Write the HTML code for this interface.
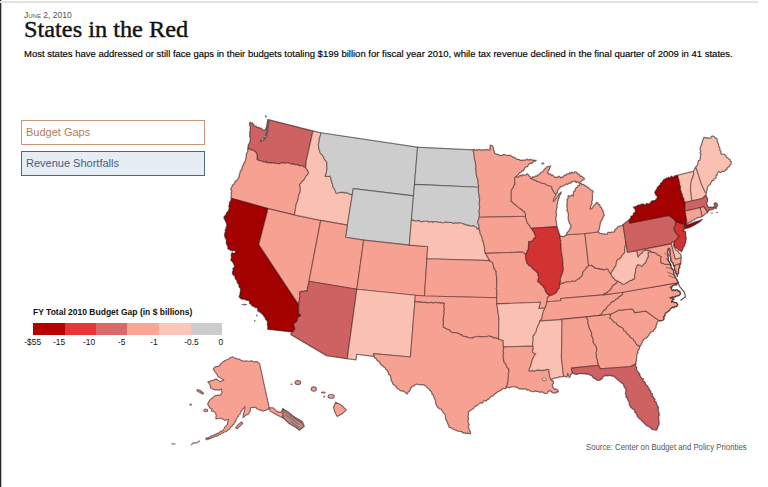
<!DOCTYPE html>
<html><head><meta charset="utf-8"><style>
html,body{margin:0;padding:0;background:#fff;}
body{width:768px;height:487px;position:relative;overflow:hidden;font-family:"Liberation Sans",sans-serif;}
.lline{position:absolute;left:0;top:0;width:1px;height:487px;background:#2a2a2a;}
.lline2{position:absolute;left:1px;top:0;width:1px;height:487px;background:#bbb;}
.tline{position:absolute;left:0;top:1px;width:758px;height:2px;background:#e2e2e2;}
.date{position:absolute;left:24px;top:9.9px;font-size:8.5px;line-height:10px;color:#555;font-variant:small-caps;letter-spacing:0px;}
.title{position:absolute;left:24px;top:16px;font-family:"Liberation Serif",serif;font-size:23.5px;line-height:26px;color:#111;-webkit-text-stroke:0.4px #111;white-space:nowrap;transform:scaleX(1.035);transform-origin:0 0;}
.sub{position:absolute;left:24px;top:48.2px;font-size:9.5px;line-height:12px;color:#000;-webkit-text-stroke:0.15px #000;white-space:nowrap;}
.btn{position:absolute;left:21px;width:182px;height:23px;box-sizing:content-box;font-size:11px;line-height:23px;}
.b1{top:120px;border:1px solid #c99478;color:#b97a58;background:#fff;}
.b2{top:151px;border:1px solid #4d6681;color:#43607d;background:#e7edf5;}
.btn span{padding-left:4px;}
.lt{position:absolute;left:33px;top:307px;font-size:8.5px;line-height:10px;font-weight:bold;color:#111;white-space:nowrap;}
.lb{position:absolute;top:322.5px;height:12.3px;width:32px;}
.ll{position:absolute;top:337px;font-size:8.4px;line-height:10px;color:#111;white-space:nowrap;}
.src{position:absolute;left:586px;top:441.5px;font-size:8.4px;line-height:10px;color:#555;white-space:nowrap;transform:scaleX(0.93);transform-origin:0 0;}
</style></head><body>
<svg width="768" height="487" viewBox="0 0 768 487" style="position:absolute;left:0;top:0"><g stroke="rgba(20,0,0,0.4)" stroke-width="1.15" stroke-linejoin="round"><path fill="#ce6161" d="M267.8,119.5L313.0,131.1L306.1,161.7L305.9,167.0L304.8,167.2L303.8,167.1L302.9,166.3L302.0,165.8L301.0,165.5L299.8,166.2L298.9,165.1L297.8,165.3L297.0,164.5L295.8,164.7L294.7,165.0L293.9,163.8L292.7,164.4L291.8,163.8L290.7,164.0L289.7,163.5L288.8,163.0L287.4,162.8L285.9,163.2L284.6,163.4L283.4,162.7L282.1,163.1L280.8,163.1L279.5,164.1L278.6,163.3L277.4,163.7L276.4,163.5L275.3,163.4L274.2,163.0L273.0,162.7L271.8,163.1L270.5,162.9L269.2,163.0L268.1,162.5L266.8,162.9L265.9,161.7L264.6,162.3L263.4,162.2L262.4,161.5L261.5,160.6L260.0,161.1L259.0,160.4L257.8,160.1L256.8,159.2L257.1,157.4L256.9,155.8L256.7,153.4L255.7,152.3L254.6,151.5L253.6,150.6L252.4,150.0L251.1,150.2L250.2,149.3L249.2,148.9L248.0,148.4L248.1,146.6L248.4,144.9L249.4,143.3L250.1,141.6L250.2,139.7L250.6,137.8L249.5,136.5L250.0,134.5L249.6,132.8L250.3,130.8L250.1,129.0L250.5,127.0L249.7,125.5L249.5,123.8L250.2,122.1L250.9,123.0L252.2,122.9L252.8,124.0L253.7,124.4L254.0,126.1L255.1,126.3L256.2,126.2L256.8,127.5L257.8,127.7L259.0,127.3L259.7,128.3L261.0,128.2L262.0,129.2L263.3,130.2L264.8,130.0L266.0,128.6L266.6,126.8L267.0,125.0L267.2,123.1L267.5,121.3L267.8,119.5Z"/><path fill="#f6a192" d="M248.0,148.4L249.2,148.9L250.2,149.3L251.1,150.2L252.4,150.0L253.6,150.6L254.6,151.5L255.7,152.3L256.7,153.4L256.9,155.8L257.1,157.4L256.8,159.2L257.8,160.1L259.0,160.4L260.0,161.1L261.5,160.6L262.4,161.5L263.4,162.2L264.6,162.3L265.9,161.7L266.8,162.9L268.1,162.5L269.2,163.0L270.5,162.9L271.8,163.1L273.0,162.7L274.2,163.0L275.3,163.4L276.4,163.5L277.4,163.7L278.6,163.3L279.5,164.1L280.8,163.1L282.1,163.1L283.4,162.7L284.6,163.4L285.9,163.2L287.4,162.8L288.8,163.0L289.7,163.5L290.7,164.0L291.8,163.8L292.7,164.4L293.9,163.8L294.7,165.0L295.8,164.7L297.0,164.5L297.8,165.3L298.9,165.1L299.8,166.2L301.0,165.5L302.0,165.8L302.9,166.3L303.8,167.1L304.8,167.2L305.9,167.0L306.2,168.8L307.2,169.8L308.1,171.1L308.5,172.9L307.8,174.4L306.8,175.4L305.8,176.4L305.0,178.1L304.1,179.6L303.0,180.9L301.9,181.6L301.2,183.0L300.3,184.0L299.4,185.1L300.2,186.6L300.4,188.5L300.3,191.0L299.8,192.9L298.8,194.4L298.8,196.0L298.2,197.4L298.2,198.9L297.7,200.3L297.3,201.8L296.6,203.2L296.1,204.6L295.9,206.1L295.7,207.6L295.2,209.0L295.5,210.6L294.9,212.0L294.7,213.5L294.2,214.9L268.1,208.6L231.3,198.3L231.0,196.6L231.6,194.7L231.1,193.1L231.9,191.1L230.8,189.4L231.5,187.5L232.4,186.3L232.9,184.7L234.1,183.9L234.8,182.6L235.5,181.1L236.7,180.6L237.6,179.5L238.5,178.3L239.3,176.9L239.2,175.2L239.8,173.8L240.2,172.3L240.5,170.7L241.9,169.7L242.0,168.0L242.5,166.5L243.4,165.2L243.8,163.7L244.4,162.3L245.4,160.9L245.8,159.3L246.1,157.7L246.4,156.1L246.2,154.4L247.1,152.8L247.9,151.4L247.7,149.9L248.0,148.4Z"/><path fill="#a30000" d="M231.3,198.3L268.1,208.6L258.8,244.6L298.6,304.5L298.7,307.1L298.3,308.7L298.9,310.2L298.4,311.9L298.9,313.4L299.7,314.6L301.0,315.1L299.7,316.4L298.2,317.1L297.6,318.6L297.3,320.4L296.3,321.7L295.0,322.7L293.9,323.8L293.8,325.6L294.5,327.1L295.0,328.7L294.2,329.9L293.5,331.3L292.2,332.0L267.6,329.2L267.9,327.5L267.8,325.9L267.3,324.4L267.7,322.4L267.1,320.6L265.7,319.5L265.2,317.6L264.0,316.4L263.2,314.8L262.0,313.7L260.7,312.6L259.3,311.8L258.3,311.5L257.5,309.9L258.1,307.9L256.6,307.8L255.1,307.6L254.2,306.3L252.5,306.2L251.6,304.8L250.7,303.9L249.5,303.3L249.7,301.2L248.5,300.6L247.3,300.1L245.8,300.1L244.7,299.1L243.1,299.3L241.6,299.1L240.3,298.1L239.0,296.3L240.0,294.8L240.0,293.1L240.6,291.5L240.5,289.8L240.4,288.0L239.0,286.9L239.2,285.0L238.4,283.8L237.3,282.8L237.3,280.9L236.5,279.8L235.4,278.9L235.2,277.2L234.7,275.7L233.4,275.0L232.6,273.9L232.4,272.2L233.2,270.4L233.0,268.5L233.9,267.4L235.0,266.5L234.2,265.3L233.7,263.9L233.0,262.3L231.9,261.2L230.8,260.1L231.4,258.4L231.5,256.8L231.2,255.1L231.9,252.7L233.7,253.2L235.0,253.1L236.0,252.0L237.2,251.6L235.9,251.7L234.9,250.8L233.8,250.3L232.4,250.9L231.4,250.2L230.1,250.3L229.3,249.0L228.0,249.0L228.0,247.5L227.8,246.1L227.2,244.9L226.4,243.7L226.3,242.1L226.5,240.3L226.1,238.9L225.3,237.7L224.7,236.4L224.8,234.8L224.8,233.3L225.6,231.6L225.2,230.1L226.2,228.7L226.2,226.9L227.0,225.5L226.6,223.9L226.2,222.3L225.4,221.1L224.9,219.4L223.9,218.0L224.3,216.3L225.7,215.4L226.2,213.8L227.1,212.5L228.7,210.4L229.1,208.9L229.3,207.3L228.9,205.8L229.6,204.2L229.4,202.6L230.6,201.3L231.3,199.9L231.3,198.3Z"/><path fill="#f6a192" d="M268.1,208.6L294.2,214.9L320.7,220.4L309.0,281.3L309.1,283.0L308.3,284.6L308.0,286.2L307.3,287.8L307.5,289.5L307.1,291.1L305.9,290.9L304.7,291.0L303.5,291.6L301.8,291.2L300.0,291.9L299.5,293.7L300.1,295.4L299.9,297.2L299.3,298.6L299.8,300.2L298.7,301.5L299.2,303.1L298.6,304.5L258.8,244.6L268.1,208.6Z"/><path fill="#fac0b2" d="M313.0,131.1L320.8,132.8L320.6,134.4L320.3,135.9L319.9,137.4L319.1,138.8L319.5,140.5L319.1,142.0L318.6,143.4L318.3,145.0L318.6,146.3L319.0,147.6L318.8,149.3L319.7,150.4L319.8,151.9L320.5,153.2L321.4,154.4L322.5,155.0L323.0,156.4L323.9,157.2L324.2,158.8L325.0,159.8L325.8,160.9L326.7,161.9L327.0,163.6L327.0,165.4L326.9,167.2L327.1,169.0L326.7,170.4L326.5,171.9L326.2,173.3L325.7,174.7L325.2,176.1L326.4,175.9L327.6,176.5L328.8,176.4L330.1,175.9L330.3,177.4L331.1,178.4L331.1,180.0L331.8,181.1L331.7,182.7L332.5,183.8L332.8,185.4L333.0,187.0L333.7,188.2L334.6,189.2L335.1,190.4L335.7,191.8L336.1,193.2L337.2,193.2L338.3,192.7L339.4,192.6L340.5,192.4L341.6,192.1L342.7,192.8L344.0,192.1L345.0,193.1L346.3,192.4L347.4,192.7L348.5,193.4L349.6,194.4L351.0,194.3L352.3,194.7L347.4,225.1L320.7,220.4L294.2,214.9L294.7,213.5L294.9,212.0L295.5,210.6L295.2,209.0L295.7,207.6L295.9,206.1L296.1,204.6L296.6,203.2L297.3,201.8L297.7,200.3L298.2,198.9L298.2,197.4L298.8,196.0L298.8,194.4L299.8,192.9L300.3,191.0L300.4,188.5L300.2,186.6L299.4,185.1L300.3,184.0L301.2,183.0L301.9,181.6L303.0,180.9L304.1,179.6L305.0,178.1L305.8,176.4L306.8,175.4L307.8,174.4L308.5,172.9L308.1,171.1L307.2,169.8L306.2,168.8L305.9,167.0L306.1,161.7L313.0,131.1Z"/><path fill="#cdcdcd" d="M320.8,132.8L417.6,147.2L414.5,184.4L413.5,195.9L353.3,188.6L352.3,194.7L351.0,194.3L349.6,194.4L348.5,193.4L347.4,192.7L346.3,192.4L345.0,193.1L344.0,192.1L342.7,192.8L341.6,192.1L340.5,192.4L339.4,192.6L338.3,192.7L337.2,193.2L336.1,193.2L335.7,191.8L335.1,190.4L334.6,189.2L333.7,188.2L333.0,187.0L332.8,185.4L332.5,183.8L331.7,182.7L331.8,181.1L331.1,180.0L331.1,178.4L330.3,177.4L330.1,175.9L328.8,176.4L327.6,176.5L326.4,175.9L325.2,176.1L325.7,174.7L326.2,173.3L326.5,171.9L326.7,170.4L327.1,169.0L326.9,167.2L327.0,165.4L327.0,163.6L326.7,161.9L325.8,160.9L325.0,159.8L324.2,158.8L323.9,157.2L323.0,156.4L322.5,155.0L321.4,154.4L320.5,153.2L319.8,151.9L319.7,150.4L318.8,149.3L319.0,147.6L318.6,146.3L318.3,145.0L318.6,143.4L319.1,142.0L319.5,140.5L319.1,138.8L319.9,137.4L320.3,135.9L320.6,134.4L320.8,132.8Z"/><path fill="#cdcdcd" d="M352.3,194.7L353.3,188.6L413.5,195.9L411.4,220.5L409.3,245.1L363.7,240.1L345.5,237.3L347.4,225.1L352.3,194.7Z"/><path fill="#f6a192" d="M320.7,220.4L347.4,225.1L345.5,237.3L363.7,240.1L356.9,289.2L309.0,281.3L320.7,220.4Z"/><path fill="#f6a192" d="M363.7,240.1L409.3,245.1L427.7,246.5L426.9,258.8L424.5,296.0L415.3,295.3L356.9,289.2L363.7,240.1Z"/><path fill="#ce6161" d="M309.0,281.3L356.9,289.2L347.3,358.7L326.4,355.6L290.7,334.5L292.2,332.0L293.5,331.3L294.2,329.9L295.0,328.7L294.5,327.1L293.8,325.6L293.9,323.8L295.0,322.7L296.3,321.7L297.3,320.4L297.6,318.6L298.2,317.1L299.7,316.4L301.0,315.1L299.7,314.6L298.9,313.4L298.4,311.9L298.9,310.2L298.3,308.7L298.7,307.1L298.6,304.5L299.2,303.1L298.7,301.5L299.8,300.2L299.3,298.6L299.9,297.2L300.1,295.4L299.5,293.7L300.0,291.9L301.8,291.2L303.5,291.6L304.7,291.0L305.9,290.9L307.1,291.1L307.5,289.5L307.3,287.8L308.0,286.2L308.3,284.6L309.1,283.0L309.0,281.3Z"/><path fill="#fac0b2" d="M356.9,289.2L415.3,295.3L414.9,301.5L410.4,357.0L373.5,353.6L374.1,356.4L356.7,354.3L356.0,359.8L347.3,358.7L356.9,289.2Z"/><path fill="#cdcdcd" d="M417.6,147.2L473.2,149.9L473.4,151.6L473.8,153.2L474.2,154.8L474.3,156.4L474.3,158.1L474.6,159.7L475.5,161.2L475.3,162.9L475.7,164.5L476.2,166.0L475.7,167.6L475.8,169.1L476.1,170.6L476.3,172.3L476.2,174.1L476.6,175.8L476.8,177.2L477.6,178.4L477.8,179.9L478.1,181.3L478.1,182.9L478.3,184.3L478.7,185.8L478.4,187.3L414.5,184.4L417.6,147.2Z"/><path fill="#cdcdcd" d="M414.5,184.4L478.4,187.3L478.5,189.4L478.4,191.5L478.7,193.4L479.4,195.1L479.0,196.7L479.7,198.3L479.5,199.9L479.6,201.5L479.2,203.0L479.4,204.6L479.7,206.2L479.6,207.8L479.4,209.4L479.1,211.0L479.2,212.5L479.6,214.1L479.2,215.7L479.3,217.3L478.7,219.2L477.9,221.0L478.0,222.5L478.2,224.0L478.8,225.3L479.2,226.7L479.2,228.2L479.2,229.8L478.4,228.6L477.1,228.9L476.4,227.3L475.3,227.0L474.3,226.3L473.2,225.9L472.0,225.7L470.8,226.1L469.6,226.2L468.6,225.1L467.4,225.4L466.2,225.1L465.2,224.4L464.1,224.4L463.1,223.8L462.1,223.2L460.9,223.2L459.9,222.8L458.8,222.8L457.7,223.6L456.6,223.1L455.5,222.7L454.4,223.5L453.4,223.6L452.3,222.9L451.2,222.5L450.2,222.5L449.1,222.3L448.0,222.6L446.9,222.2L445.9,222.4L444.8,222.3L443.7,222.7L442.6,223.0L441.5,222.8L440.5,222.3L439.4,222.3L438.3,222.3L437.2,222.1L436.2,222.0L435.1,221.6L434.0,221.8L432.9,222.6L431.9,221.5L430.8,221.9L429.7,222.0L428.6,222.2L427.6,221.3L426.5,221.3L425.4,221.2L424.3,221.3L423.3,221.3L422.1,221.9L421.1,221.7L420.0,221.6L419.0,220.5L417.9,220.4L416.8,221.2L415.7,221.3L414.7,220.7L413.6,220.8L412.6,219.9L411.4,220.5L413.5,195.9L414.5,184.4Z"/><path fill="#fac0b2" d="M411.4,220.5L412.6,219.9L413.6,220.8L414.7,220.7L415.7,221.3L416.8,221.2L417.9,220.4L419.0,220.5L420.0,221.6L421.1,221.7L422.1,221.9L423.3,221.3L424.3,221.3L425.4,221.2L426.5,221.3L427.6,221.3L428.6,222.2L429.7,222.0L430.8,221.9L431.9,221.5L432.9,222.6L434.0,221.8L435.1,221.6L436.2,222.0L437.2,222.1L438.3,222.3L439.4,222.3L440.5,222.3L441.5,222.8L442.6,223.0L443.7,222.7L444.8,222.3L445.9,222.4L446.9,222.2L448.0,222.6L449.1,222.3L450.2,222.5L451.2,222.5L452.3,222.9L453.4,223.6L454.4,223.5L455.5,222.7L456.6,223.1L457.7,223.6L458.8,222.8L459.9,222.8L460.9,223.2L462.1,223.2L463.1,223.8L464.1,224.4L465.2,224.4L466.2,225.1L467.4,225.4L468.6,225.1L469.6,226.2L470.8,226.1L472.0,225.7L473.2,225.9L474.3,226.3L475.3,227.0L476.4,227.3L477.1,228.9L478.4,228.6L479.2,229.8L480.0,231.4L480.1,233.4L480.9,235.0L481.8,236.5L482.3,238.3L482.3,240.2L483.3,241.6L483.5,243.4L483.9,245.0L484.4,246.4L484.5,247.9L484.6,249.5L484.8,251.5L485.4,253.4L489.7,260.6L426.9,258.8L427.7,246.5L409.3,245.1L411.4,220.5Z"/><path fill="#f6a192" d="M426.9,258.8L489.7,260.6L490.6,261.5L491.9,261.8L492.6,263.0L493.2,264.6L493.6,266.2L493.6,268.0L494.9,268.8L495.4,270.7L496.5,271.7L496.1,273.2L496.2,274.7L496.6,276.3L496.7,277.8L497.0,279.3L496.8,280.9L496.7,282.4L496.9,283.9L496.6,285.5L496.7,287.0L496.2,288.5L497.0,290.0L496.5,291.6L497.1,293.1L496.9,294.6L496.6,296.2L496.8,297.7L424.5,296.0L426.9,258.8Z"/><path fill="#f6a192" d="M415.3,295.3L424.5,296.0L496.8,297.7L496.8,303.9L498.9,317.6L498.7,339.3L497.7,338.3L496.4,338.3L495.2,337.8L493.8,338.2L492.8,337.1L491.6,336.9L490.4,336.4L489.1,336.0L487.8,336.2L486.6,336.7L485.3,336.7L484.0,336.6L482.6,336.6L481.3,336.5L479.9,337.0L478.6,336.3L477.2,336.8L476.0,337.0L474.7,337.0L473.5,337.3L472.4,338.3L471.1,338.0L469.7,337.7L468.2,337.8L466.9,336.7L465.5,336.8L464.1,336.4L462.7,336.3L461.8,334.7L460.4,334.9L459.4,333.8L458.1,333.4L456.7,332.7L455.3,332.8L453.9,332.5L452.4,332.6L451.0,332.0L450.2,330.9L449.3,330.0L448.1,329.4L446.8,329.1L445.6,328.4L444.4,327.7L443.2,327.2L443.1,325.7L443.2,324.2L443.5,322.7L443.1,321.2L443.0,319.7L443.1,318.2L443.7,316.7L443.5,315.2L443.9,313.7L443.9,312.2L443.5,310.7L444.2,309.2L443.8,307.7L443.7,306.2L443.8,304.7L444.2,303.2L443.0,303.4L441.8,302.7L440.6,303.6L439.5,302.4L438.3,303.1L437.1,302.8L436.0,302.3L434.8,302.6L433.6,303.0L432.4,303.1L431.3,302.2L430.1,302.6L428.9,303.0L427.7,302.9L426.6,302.4L425.4,302.8L424.3,302.2L423.0,302.6L421.9,302.2L420.7,301.9L419.5,302.4L418.4,301.6L417.2,302.1L416.0,301.8L414.9,301.5L415.3,295.3Z"/><path fill="#f6a192" d="M414.9,301.5L416.0,301.8L417.2,302.1L418.4,301.6L419.5,302.4L420.7,301.9L421.9,302.2L423.0,302.6L424.3,302.2L425.4,302.8L426.6,302.4L427.7,302.9L428.9,303.0L430.1,302.6L431.3,302.2L432.4,303.1L433.6,303.0L434.8,302.6L436.0,302.3L437.1,302.8L438.3,303.1L439.5,302.4L440.6,303.6L441.8,302.7L443.0,303.4L444.2,303.2L443.8,304.7L443.7,306.2L443.8,307.7L444.2,309.2L443.5,310.7L443.9,312.2L443.9,313.7L443.5,315.2L443.7,316.7L443.1,318.2L443.0,319.7L443.1,321.2L443.5,322.7L443.2,324.2L443.1,325.7L443.2,327.2L444.4,327.7L445.6,328.4L446.8,329.1L448.1,329.4L449.3,330.0L450.2,330.9L451.0,332.0L452.4,332.6L453.9,332.5L455.3,332.8L456.7,332.7L458.1,333.4L459.4,333.8L460.4,334.9L461.8,334.7L462.7,336.3L464.1,336.4L465.5,336.8L466.9,336.7L468.2,337.8L469.7,337.7L471.1,338.0L472.4,338.3L473.5,337.3L474.7,337.0L476.0,337.0L477.2,336.8L478.6,336.3L479.9,337.0L481.3,336.5L482.6,336.6L484.0,336.6L485.3,336.7L486.6,336.7L487.8,336.2L489.1,336.0L490.4,336.4L491.6,336.9L492.8,337.1L493.8,338.2L495.2,337.8L496.4,338.3L497.7,338.3L498.7,339.3L503.2,340.3L503.4,346.9L503.7,348.5L503.2,350.1L503.3,351.7L503.7,353.2L503.0,354.8L503.5,356.4L503.2,358.0L503.6,359.6L503.9,361.3L504.5,362.8L505.8,363.9L506.3,365.6L506.9,367.1L507.9,368.2L509.0,369.2L508.8,370.8L509.2,372.3L508.2,373.8L508.6,375.4L508.3,376.9L508.2,378.4L508.3,379.9L508.1,381.4L507.5,382.8L507.5,384.6L506.4,386.0L506.2,387.8L504.8,388.8L502.8,388.3L501.5,389.7L500.2,390.8L498.6,391.2L497.2,392.2L496.1,393.0L495.0,393.9L493.8,394.6L493.0,396.0L491.2,396.3L490.0,397.7L488.7,399.1L487.3,399.4L486.3,401.0L484.5,400.3L483.3,401.5L482.3,403.0L480.4,402.6L479.2,403.6L477.9,404.6L476.5,406.0L474.6,406.4L473.6,408.3L471.9,409.4L470.5,410.2L469.1,411.2L468.2,412.6L468.5,414.3L468.1,415.8L468.0,417.3L468.7,418.8L467.7,420.4L468.1,421.9L468.4,423.4L469.2,425.0L468.0,426.8L468.9,428.3L469.3,430.2L470.4,431.8L470.5,433.8L469.0,433.5L467.5,433.1L465.9,433.5L464.4,432.8L463.0,433.0L461.8,431.7L460.5,431.4L459.2,431.2L457.8,431.2L456.5,430.2L455.0,429.8L453.6,429.3L452.3,428.6L450.7,427.6L449.0,427.3L449.0,425.6L448.1,424.4L447.6,423.0L447.0,421.7L446.5,420.2L445.7,418.9L445.6,417.3L445.4,415.8L445.0,414.3L443.9,413.1L442.8,411.9L441.9,410.5L441.2,409.1L439.5,408.8L438.5,407.7L437.4,406.8L436.7,405.4L435.9,403.8L435.8,402.0L435.3,400.4L434.6,398.5L433.8,396.7L433.4,395.1L432.1,394.2L431.8,392.5L431.0,391.3L429.8,390.3L429.0,389.1L428.0,388.1L426.9,387.3L426.1,386.0L424.7,385.5L423.5,384.7L422.1,384.7L420.8,384.5L419.5,384.8L418.0,384.5L416.7,384.0L415.2,384.5L414.3,385.7L413.0,386.1L411.8,386.8L410.6,388.3L410.0,390.3L408.8,391.4L407.9,392.7L407.0,394.0L405.7,392.9L404.5,391.6L402.9,391.0L401.5,390.9L400.1,390.5L399.1,389.3L397.7,388.8L396.8,387.8L396.1,386.5L395.1,385.5L393.9,384.8L392.8,384.0L392.5,382.2L391.3,380.8L391.1,378.9L390.8,377.1L390.3,375.5L388.7,374.4L388.5,372.5L387.6,371.4L386.9,369.9L385.6,369.2L385.1,367.6L383.8,366.9L382.9,365.8L381.6,365.3L380.7,364.3L379.8,363.2L379.2,361.8L378.2,361.0L377.1,360.2L376.4,358.7L374.9,357.9L374.1,356.4L373.5,353.6L410.4,357.0L414.9,301.5Z"/><path fill="#f6a192" d="M473.2,149.9L474.2,149.3L475.2,150.5L476.2,149.9L477.2,150.3L478.2,149.6L479.2,149.4L480.2,149.9L481.2,150.4L482.2,149.9L483.2,149.9L484.2,149.7L485.2,149.9L486.2,149.8L487.2,149.5L488.2,149.9L489.2,150.0L490.2,149.9L489.8,148.4L490.4,146.8L490.1,145.3L491.4,145.4L492.7,146.0L493.0,147.5L493.6,148.7L493.4,150.4L494.4,151.4L494.4,153.0L495.3,153.6L496.3,154.3L497.3,154.4L498.3,154.6L499.2,155.4L500.3,155.3L501.3,155.6L502.4,155.3L503.4,154.6L504.6,154.5L505.6,155.0L506.7,155.3L507.8,155.6L509.0,155.3L510.1,155.3L511.2,156.1L512.2,156.6L513.2,157.4L514.3,157.3L515.3,158.2L516.3,159.0L517.3,159.5L518.5,159.3L519.5,159.7L520.5,160.6L521.6,160.3L522.8,160.3L523.9,160.0L525.1,160.2L526.2,159.7L527.2,159.2L528.2,160.0L529.2,159.7L530.2,159.6L531.2,159.6L532.2,160.1L533.2,160.4L534.2,160.1L535.2,160.7L536.2,160.3L535.3,161.3L534.0,161.0L533.1,162.0L532.2,163.1L531.1,163.4L529.8,163.2L529.0,164.4L528.1,165.2L527.5,166.7L526.2,166.6L525.3,167.4L524.4,168.5L523.8,169.9L523.0,171.0L521.7,170.8L521.0,172.2L519.8,172.6L518.9,173.6L518.0,174.6L517.2,175.8L516.2,176.7L514.6,177.7L514.7,179.5L514.8,181.2L515.0,182.9L514.9,184.7L513.9,185.7L513.4,187.4L512.5,188.5L511.8,189.8L511.2,191.3L511.4,193.1L511.2,194.8L511.3,196.6L511.2,198.3L511.4,199.9L511.1,201.4L512.4,201.9L513.3,203.3L514.5,204.0L515.6,205.0L516.8,205.9L518.0,206.9L519.2,207.9L520.4,208.5L521.4,209.6L522.5,210.3L523.6,211.2L524.7,212.0L525.5,214.0L525.6,216.2L479.3,217.3L479.2,215.7L479.6,214.1L479.2,212.5L479.1,211.0L479.4,209.4L479.6,207.8L479.7,206.2L479.4,204.6L479.2,203.0L479.6,201.5L479.5,199.9L479.7,198.3L479.0,196.7L479.4,195.1L478.7,193.4L478.4,191.5L478.5,189.4L478.4,187.3L478.7,185.8L478.3,184.3L478.1,182.9L478.1,181.3L477.8,179.9L477.6,178.4L476.8,177.2L476.6,175.8L476.2,174.1L476.3,172.3L476.1,170.6L475.8,169.1L475.7,167.6L476.2,166.0L475.7,164.5L475.3,162.9L475.5,161.2L474.6,159.7L474.3,158.1L474.3,156.4L474.2,154.8L473.8,153.2L473.4,151.6L473.2,149.9Z"/><path fill="#f6a192" d="M479.3,217.3L525.6,216.2L525.5,217.9L526.6,219.2L526.4,220.9L527.0,222.3L527.9,223.6L528.9,224.5L529.7,225.9L530.4,227.2L531.4,228.3L532.3,229.4L532.9,230.9L533.8,231.9L534.5,233.3L534.9,234.9L535.9,236.1L535.4,237.5L534.2,238.1L533.5,239.2L532.7,240.4L531.7,240.9L530.7,241.7L529.5,241.6L528.5,242.1L528.8,243.6L528.5,245.0L528.5,246.5L528.4,248.0L528.4,249.5L527.4,250.5L527.0,252.1L526.1,253.3L525.7,254.9L522.7,252.1L485.4,253.4L484.8,251.5L484.6,249.5L484.5,247.9L484.4,246.4L483.9,245.0L483.5,243.4L483.3,241.6L482.3,240.2L482.3,238.3L481.8,236.5L480.9,235.0L480.1,233.4L480.0,231.4L479.2,229.8L479.2,228.2L479.2,226.7L478.8,225.3L478.2,224.0L478.0,222.5L477.9,221.0L478.7,219.2L479.3,217.3Z"/><path fill="#f6a192" d="M485.4,253.4L522.7,252.1L525.7,254.9L525.6,256.6L525.8,258.2L526.0,259.9L526.9,261.4L526.7,263.1L527.9,263.8L528.7,265.5L530.1,265.8L531.3,266.6L532.2,268.0L533.2,269.1L534.4,270.1L535.7,270.8L536.7,272.1L538.1,272.6L537.8,274.3L538.4,275.9L538.6,277.8L538.1,279.5L537.7,281.3L538.8,282.3L540.0,282.9L540.7,284.3L542.0,284.9L543.0,286.0L543.7,287.6L544.9,288.3L545.2,290.2L545.9,291.9L547.0,293.3L548.1,294.5L549.5,295.4L548.8,296.9L547.5,297.4L547.2,298.9L547.4,300.5L546.8,301.8L546.6,303.8L546.1,305.6L545.0,308.1L538.7,308.5L540.5,302.2L496.8,303.9L496.8,297.7L496.6,296.2L496.9,294.6L497.1,293.1L496.5,291.6L497.0,290.0L496.2,288.5L496.7,287.0L496.6,285.5L496.9,283.9L496.7,282.4L496.8,280.9L497.0,279.3L496.7,277.8L496.6,276.3L496.2,274.7L496.1,273.2L496.5,271.7L495.4,270.7L494.9,268.8L493.6,268.0L493.6,266.2L493.2,264.6L492.6,263.0L491.9,261.8L490.6,261.5L489.7,260.6L485.4,253.4Z"/><path fill="#fac0b2" d="M496.8,303.9L540.5,302.2L538.7,308.5L545.0,308.1L544.2,309.8L543.3,311.3L543.1,313.2L542.3,315.0L542.2,316.9L542.0,318.9L540.8,319.7L540.0,320.9L539.4,322.5L539.0,324.2L538.0,325.5L537.5,327.2L536.6,328.7L536.4,330.6L535.9,332.3L534.8,333.6L534.1,335.2L532.9,336.2L533.2,337.8L533.2,339.5L533.1,341.1L532.6,342.8L532.9,344.4L532.8,346.1L503.4,346.9L503.2,340.3L498.7,339.3L498.9,317.6L496.8,303.9Z"/><path fill="#f6a192" d="M503.4,346.9L532.8,346.1L533.3,347.6L533.2,349.2L532.6,350.7L532.7,352.3L534.2,353.4L535.9,353.9L534.7,355.2L533.7,356.7L533.0,358.4L532.1,360.0L531.9,361.8L531.2,363.5L531.0,365.3L530.3,367.0L529.4,368.5L529.1,371.0L530.4,370.9L531.7,370.6L533.0,370.4L534.4,371.2L535.7,370.4L537.0,370.1L538.4,370.1L539.7,370.1L541.1,370.4L542.4,370.6L543.7,369.8L545.1,370.3L546.4,369.6L547.7,369.3L549.1,369.8L549.0,371.4L549.1,372.9L549.7,374.4L549.3,376.0L550.4,377.8L551.1,379.8L553.3,381.3L553.5,383.2L552.2,384.9L552.7,386.8L553.4,388.3L554.6,389.0L556.0,389.1L557.7,390.0L558.4,392.0L556.9,391.9L555.6,393.0L554.2,392.9L552.4,392.8L551.3,391.2L549.7,390.7L548.2,391.3L547.3,393.2L545.6,393.5L544.1,393.1L542.7,392.0L541.2,391.9L539.7,392.2L538.2,391.5L536.7,391.4L535.2,390.9L533.7,391.7L532.2,391.5L530.7,391.2L529.5,390.2L528.2,389.5L526.8,390.1L525.6,388.5L524.2,388.7L522.8,389.1L521.5,388.6L520.0,389.0L518.6,388.6L517.4,387.4L516.1,387.1L514.8,386.7L513.4,386.8L512.1,386.7L510.6,387.0L509.3,388.0L507.6,387.0L506.2,387.8L506.4,386.0L507.5,384.6L507.5,382.8L508.1,381.4L508.3,379.9L508.2,378.4L508.3,376.9L508.6,375.4L508.2,373.8L509.2,372.3L508.8,370.8L509.0,369.2L507.9,368.2L506.9,367.1L506.3,365.6L505.8,363.9L504.5,362.8L503.9,361.3L503.6,359.6L503.2,358.0L503.5,356.4L503.0,354.8L503.7,353.2L503.3,351.7L503.2,350.1L503.7,348.5L503.4,346.9Z"/><path fill="#fac0b2" d="M561.0,319.4L540.0,320.9L539.4,322.5L539.0,324.2L538.0,325.5L537.5,327.2L536.6,328.7L536.4,330.6L535.9,332.3L534.8,333.6L534.1,335.2L532.9,336.2L533.2,337.8L533.2,339.5L533.1,341.1L532.6,342.8L532.9,344.4L532.8,346.1L533.3,347.6L533.2,349.2L532.6,350.7L532.7,352.3L534.2,353.4L535.9,353.9L534.7,355.2L533.7,356.7L533.0,358.4L532.1,360.0L531.9,361.8L531.2,363.5L531.0,365.3L530.3,367.0L529.4,368.5L529.1,371.0L530.4,370.9L531.7,370.6L533.0,370.4L534.4,371.2L535.7,370.4L537.0,370.1L538.4,370.1L539.7,370.1L541.1,370.4L542.4,370.6L543.7,369.8L545.1,370.3L546.4,369.6L547.7,369.3L549.1,369.8L549.0,371.4L549.1,372.9L549.7,374.4L549.3,376.0L550.4,377.8L551.1,379.8L552.5,378.7L554.2,378.1L555.5,377.9L556.9,377.8L558.2,377.4L559.4,376.5L560.8,376.8L562.2,376.8L563.6,376.2L561.4,357.8L562.1,320.5L561.0,319.4Z"/><path fill="#f6a192" d="M555.9,194.4L554.7,192.9L553.5,191.5L552.9,190.0L552.1,188.9L551.8,187.2L550.9,186.2L549.8,185.7L548.7,185.7L547.6,185.2L546.6,184.7L545.5,184.1L544.4,183.5L543.2,183.4L542.0,183.2L541.0,182.7L539.9,182.4L538.9,181.7L537.8,181.6L536.7,181.4L535.9,180.1L534.7,180.2L533.7,179.9L532.7,178.9L531.7,178.6L530.6,178.2L530.0,176.6L528.9,175.7L528.1,174.4L527.0,173.7L526.1,175.0L524.9,175.0L523.7,175.1L522.5,174.7L521.6,176.3L520.4,175.1L519.4,175.8L518.4,177.1L517.3,177.0L516.2,176.7L514.6,177.7L514.7,179.5L514.8,181.2L515.0,182.9L514.9,184.7L513.9,185.7L513.4,187.4L512.5,188.5L511.8,189.8L511.2,191.3L511.4,193.1L511.2,194.8L511.3,196.6L511.2,198.3L511.4,199.9L511.1,201.4L512.4,201.9L513.3,203.3L514.5,204.0L515.6,205.0L516.8,205.9L518.0,206.9L519.2,207.9L520.4,208.5L521.4,209.6L522.5,210.3L523.6,211.2L524.7,212.0L525.5,214.0L525.6,216.2L525.5,217.9L526.6,219.2L526.4,220.9L527.0,222.3L527.9,223.6L528.9,224.5L529.7,225.9L530.4,227.2L531.4,228.3L556.9,226.6L556.7,224.8L556.4,223.1L556.3,221.3L555.5,219.8L555.9,218.3L556.1,216.7L556.4,215.2L556.4,213.6L555.9,211.9L556.4,210.4L556.5,208.9L557.1,207.6L557.0,206.0L557.0,204.5L557.7,203.2L557.4,201.6L558.2,200.5L558.4,198.8L559.2,197.6L559.3,195.8L560.2,194.7L560.9,193.5L561.3,192.0L560.4,193.0L559.4,193.6L558.5,194.4L557.9,195.9L557.0,196.7L556.6,198.3L555.5,198.8L554.8,199.9L554.1,201.0L553.0,201.4L553.7,200.1L553.8,198.3L554.7,197.1L555.6,196.0L555.9,194.4Z"/><path fill="#d23232" d="M556.9,226.6L531.4,228.3L532.3,229.4L532.9,230.9L533.8,231.9L534.5,233.3L534.9,234.9L535.9,236.1L535.4,237.5L534.2,238.1L533.5,239.2L532.7,240.4L531.7,240.9L530.7,241.7L529.5,241.6L528.5,242.1L528.8,243.6L528.5,245.0L528.5,246.5L528.4,248.0L528.4,249.5L527.4,250.5L527.0,252.1L526.1,253.3L525.7,254.9L525.6,256.6L525.8,258.2L526.0,259.9L526.9,261.4L526.7,263.1L527.9,263.8L528.7,265.5L530.1,265.8L531.3,266.6L532.2,268.0L533.2,269.1L534.4,270.1L535.7,270.8L536.7,272.1L538.1,272.6L537.8,274.3L538.4,275.9L538.6,277.8L538.1,279.5L537.7,281.3L538.8,282.3L540.0,282.9L540.7,284.3L542.0,284.9L543.0,286.0L543.7,287.6L544.9,288.3L545.2,290.2L545.9,291.9L547.0,293.3L548.1,294.5L549.5,295.4L550.9,295.4L552.4,295.3L553.5,293.8L555.0,294.0L555.9,292.9L556.9,291.9L557.5,290.5L558.2,289.1L559.4,288.4L559.5,286.5L559.8,284.6L560.1,283.1L560.6,281.6L560.4,280.0L560.5,278.4L561.0,276.8L561.6,275.3L562.4,273.9L562.6,272.2L563.2,270.7L563.5,268.8L563.2,266.9L562.8,265.1L563.1,263.5L562.7,262.0L562.9,260.5L562.7,258.9L562.3,257.4L562.3,255.9L561.8,254.4L561.7,252.9L561.4,251.4L561.3,249.8L561.1,248.3L560.8,246.8L561.2,245.2L561.1,243.7L560.3,242.2L561.0,240.6L560.3,239.2L560.2,237.6L560.2,236.1L558.8,232.5L556.9,226.6Z"/><path fill="#f6a192" d="M566.6,234.8L563.3,236.8L560.2,236.1L560.2,237.6L560.3,239.2L561.0,240.6L560.3,242.2L561.1,243.7L561.2,245.2L560.8,246.8L561.1,248.3L561.3,249.8L561.4,251.4L561.7,252.9L561.8,254.4L562.3,255.9L562.3,257.4L562.7,258.9L562.9,260.5L562.7,262.0L563.1,263.5L562.8,265.1L563.2,266.9L563.5,268.8L563.2,270.7L562.6,272.2L562.4,273.9L561.6,275.3L561.0,276.8L560.5,278.4L560.4,280.0L560.6,281.6L560.1,283.1L559.8,284.6L560.9,284.2L561.8,283.1L563.2,283.5L564.2,282.8L565.4,282.4L566.7,282.0L567.9,282.0L569.2,282.0L570.4,281.8L571.5,281.5L572.6,280.9L573.9,281.5L575.0,281.5L576.1,280.6L577.0,279.9L578.0,279.1L579.3,278.9L579.9,277.4L581.0,277.0L582.0,275.8L582.7,274.3L582.7,272.3L583.7,271.1L584.8,270.1L585.8,269.1L586.4,267.4L587.8,267.0L588.6,265.5L584.9,233.5L566.6,234.8Z"/><path fill="#f6a192" d="M584.9,233.5L597.1,232.0L598.5,231.9L599.7,233.4L601.1,233.6L602.4,233.8L604.3,234.1L605.7,234.2L607.0,234.3L607.9,232.5L609.2,232.4L610.6,232.6L611.9,232.0L613.3,232.2L614.6,231.9L614.8,229.7L615.8,228.9L617.0,228.3L617.7,227.0L618.8,226.3L619.9,226.0L621.0,225.9L622.1,225.7L623.0,224.6L625.6,241.0L626.1,243.2L625.6,245.3L625.0,246.7L624.9,248.3L624.5,249.8L625.0,251.5L624.5,253.0L623.5,253.8L622.5,254.7L621.8,256.0L621.2,257.5L620.1,258.1L619.3,259.2L618.0,259.4L617.1,260.4L616.4,262.2L616.2,264.3L615.8,266.0L614.8,267.1L614.0,268.4L613.4,270.0L612.1,271.0L611.4,272.4L611.0,274.2L610.0,273.1L609.1,272.0L608.3,270.8L607.9,269.3L606.6,269.0L605.5,269.5L604.3,270.0L603.1,269.9L601.9,269.1L600.7,269.6L599.6,268.9L598.4,269.1L597.2,268.4L596.0,268.4L594.8,268.5L594.0,267.0L592.6,266.4L591.6,265.2L590.1,265.7L588.6,265.5L584.9,233.5Z"/><path fill="#f6a192" d="M559.8,284.6L559.5,286.5L559.4,288.4L558.2,289.1L557.5,290.5L556.9,291.9L555.9,292.9L555.0,294.0L553.5,293.8L552.4,295.3L550.9,295.4L549.5,295.4L548.8,296.9L547.5,297.4L547.2,298.9L547.4,300.5L546.8,301.8L560.7,300.7L560.6,298.5L603.3,294.9L604.1,293.9L605.5,294.1L606.2,292.6L607.6,292.8L608.2,291.2L609.4,291.0L610.3,289.8L611.2,288.7L611.8,287.3L612.7,286.1L613.5,284.7L615.0,284.4L616.1,283.5L617.0,282.1L618.1,281.1L616.9,280.8L615.8,280.0L614.6,279.6L614.0,277.9L612.5,277.3L611.8,275.7L611.0,274.2L610.0,273.1L609.1,272.0L608.3,270.8L607.9,269.3L606.6,269.0L605.5,269.5L604.3,270.0L603.1,269.9L601.9,269.1L600.7,269.6L599.6,268.9L598.4,269.1L597.2,268.4L596.0,268.4L594.8,268.5L594.0,267.0L592.6,266.4L591.6,265.2L590.1,265.7L588.6,265.5L587.8,267.0L586.4,267.4L585.8,269.1L584.8,270.1L583.7,271.1L582.7,272.3L582.7,274.3L582.0,275.8L581.0,277.0L579.9,277.4L579.3,278.9L578.0,279.1L577.0,279.9L576.1,280.6L575.0,281.5L573.9,281.5L572.6,280.9L571.5,281.5L570.4,281.8L569.2,282.0L567.9,282.0L566.7,282.0L565.4,282.4L564.2,282.8L563.2,283.5L561.8,283.1L560.9,284.2L559.8,284.6Z"/><path fill="#f6a192" d="M540.0,320.9L561.0,319.4L586.8,316.9L599.5,315.4L600.7,314.8L601.6,313.7L602.4,312.5L603.1,311.4L604.0,310.4L605.2,309.9L606.1,309.0L606.7,307.6L607.6,306.6L608.4,305.6L609.4,304.9L610.4,304.1L611.0,302.8L611.9,301.9L613.2,301.9L614.2,301.0L615.3,300.2L616.2,299.0L617.5,299.0L618.4,297.9L619.3,296.6L620.6,296.1L621.8,295.3L622.7,294.1L622.6,292.3L603.3,294.9L560.6,298.5L560.7,300.7L546.8,301.8L546.6,303.8L546.1,305.6L545.0,308.1L544.2,309.8L543.3,311.3L543.1,313.2L542.3,315.0L542.2,316.9L542.0,318.9L540.8,319.7L540.0,320.9Z"/><path fill="#f6a192" d="M586.8,316.9L561.0,319.4L562.1,320.5L561.4,357.8L563.6,376.2L565.3,376.4L566.8,377.1L567.5,375.3L567.6,373.4L568.4,374.6L568.9,376.0L569.0,377.6L570.1,376.6L570.5,375.1L571.3,373.9L572.3,372.8L571.4,368.1L598.5,365.3L598.3,363.8L597.4,362.5L597.6,360.9L597.3,359.4L596.6,358.1L596.3,356.5L596.7,354.9L596.0,353.3L596.5,351.7L596.7,350.1L596.7,348.5L596.4,346.9L595.6,345.5L594.5,344.3L593.8,342.9L593.0,341.6L593.4,339.9L592.7,338.5L592.5,337.0L591.4,335.8L591.8,334.1L591.5,332.6L591.1,331.2L590.4,329.9L589.5,328.6L589.1,327.1L588.9,325.6L588.3,324.3L587.9,322.8L588.1,321.2L587.9,319.7L586.8,318.5L586.8,316.9Z"/><path fill="#f6a192" d="M599.5,315.4L586.8,316.9L586.8,318.5L587.9,319.7L588.1,321.2L587.9,322.8L588.3,324.3L588.9,325.6L589.1,327.1L589.5,328.6L590.4,329.9L591.1,331.2L591.5,332.6L591.8,334.1L591.4,335.8L592.5,337.0L592.7,338.5L593.4,339.9L593.0,341.6L593.8,342.9L594.5,344.3L595.6,345.5L596.4,346.9L596.7,348.5L596.7,350.1L596.5,351.7L596.0,353.3L596.7,354.9L596.3,356.5L596.6,358.1L597.3,359.4L597.6,360.9L597.4,362.5L598.3,363.8L598.5,365.3L600.4,368.7L628.4,366.7L630.5,366.6L635.9,363.7L635.7,362.0L636.7,360.5L636.3,358.7L636.8,357.1L636.6,355.4L637.0,353.8L638.0,352.6L637.5,350.7L638.7,349.7L639.4,348.5L639.4,346.8L638.6,345.3L636.8,344.9L635.9,343.3L635.2,341.6L633.9,340.6L633.3,338.9L631.8,338.4L630.6,337.5L629.8,336.1L628.9,334.8L627.4,334.2L626.5,332.9L625.5,331.0L624.0,330.7L623.3,328.7L622.2,327.5L620.8,327.0L619.5,326.2L618.3,325.4L616.9,324.6L616.2,322.8L614.5,322.5L613.4,321.4L612.4,320.0L611.0,318.9L609.6,317.8L610.6,316.8L610.3,314.7L611.6,313.8L599.5,315.4Z"/><path fill="#ce6161" d="M635.9,363.7L630.5,366.6L628.4,366.7L600.4,368.7L598.5,365.3L571.4,368.1L572.3,372.8L574.6,373.9L576.2,374.5L577.7,373.9L579.2,373.6L580.7,373.6L582.3,373.4L583.8,373.7L585.4,373.9L587.0,373.9L588.6,374.2L590.0,375.1L591.6,375.4L592.4,376.8L593.4,377.9L594.7,378.5L596.0,379.2L597.0,380.3L598.3,380.2L599.7,380.3L600.8,379.3L602.1,378.9L602.6,377.1L603.8,376.5L604.8,375.6L606.2,375.4L607.7,375.9L609.3,375.3L610.8,375.4L612.0,376.2L613.5,375.9L614.7,376.9L615.7,378.1L616.9,379.0L618.0,380.1L619.3,380.8L620.5,382.0L621.8,383.0L623.2,383.9L623.8,385.4L624.2,387.0L625.1,388.2L626.2,389.3L625.9,390.8L625.9,392.4L625.3,393.9L626.4,395.5L625.8,397.0L627.2,397.8L627.6,399.3L628.2,400.8L629.4,402.5L629.3,404.7L630.2,405.9L630.8,407.4L632.0,408.4L633.2,409.3L634.8,410.1L634.9,412.2L636.3,413.2L636.9,415.2L637.8,417.0L638.9,418.3L640.3,419.1L641.4,420.2L642.4,421.6L643.8,422.3L644.6,423.9L646.0,424.6L646.9,426.0L648.6,426.3L649.6,427.3L650.9,428.0L651.7,429.3L653.2,429.6L654.8,429.7L656.3,430.1L657.5,428.8L657.6,426.9L658.6,425.5L659.2,423.9L658.9,422.2L658.7,420.5L658.8,418.8L658.6,417.1L659.1,415.5L659.3,413.9L658.7,412.4L658.4,410.9L658.0,409.3L658.6,407.7L657.8,406.2L656.9,405.0L656.6,403.5L656.1,402.1L654.5,401.3L655.0,399.3L653.8,398.3L653.2,397.0L652.4,395.6L652.3,393.8L650.7,392.9L650.7,391.0L649.4,390.0L648.8,388.3L647.9,386.8L647.0,385.4L645.6,384.7L645.4,382.9L644.5,381.7L643.0,381.1L643.2,378.9L641.7,378.3L640.9,377.0L640.0,375.8L639.8,374.1L638.8,373.0L637.9,371.7L637.0,370.5L636.3,369.2L636.7,367.4L635.3,365.6L635.9,363.7Z"/><path fill="#f6a192" d="M611.6,313.8L618.1,310.4L631.6,309.0L632.8,309.4L634.8,312.6L645.8,311.0L659.0,320.6L657.7,321.4L657.0,322.7L656.9,324.5L655.9,325.6L656.0,327.6L655.1,328.8L653.9,329.7L653.4,331.4L651.7,331.6L650.5,332.5L649.5,333.6L648.8,335.3L647.8,336.4L646.9,337.7L645.5,338.3L644.2,339.0L643.3,340.3L642.4,341.5L641.9,343.0L641.2,344.4L640.5,345.8L639.4,346.8L638.6,345.3L636.8,344.9L635.9,343.3L635.2,341.6L633.9,340.6L633.3,338.9L631.8,338.4L630.6,337.5L629.8,336.1L628.9,334.8L627.4,334.2L626.5,332.9L625.5,331.0L624.0,330.7L623.3,328.7L622.2,327.5L620.8,327.0L619.5,326.2L618.3,325.4L616.9,324.6L616.2,322.8L614.5,322.5L613.4,321.4L612.4,320.0L611.0,318.9L609.6,317.8L610.6,316.8L610.3,314.7L611.6,313.8Z"/><path fill="#f6a192" d="M599.5,315.4L600.7,314.8L601.6,313.7L602.4,312.5L603.1,311.4L604.0,310.4L605.2,309.9L606.1,309.0L606.7,307.6L607.6,306.6L608.4,305.6L609.4,304.9L610.4,304.1L611.0,302.8L611.9,301.9L613.2,301.9L614.2,301.0L615.3,300.2L616.2,299.0L617.5,299.0L618.4,297.9L619.3,296.6L620.6,296.1L621.8,295.3L622.7,294.1L622.6,292.3L678.5,282.6L677.3,283.5L676.4,284.9L675.0,284.6L673.8,285.2L672.6,285.6L671.7,287.3L670.3,287.0L671.5,288.7L672.3,290.7L673.4,289.8L674.9,290.7L676.0,289.9L677.3,289.8L678.4,291.3L679.7,291.1L680.1,292.5L680.5,294.0L679.2,295.2L677.7,296.0L676.1,296.0L674.7,297.2L673.1,296.8L671.5,297.3L669.9,297.7L671.3,298.1L672.8,298.1L674.0,299.3L672.3,300.2L671.5,302.2L672.7,301.5L673.9,302.2L675.2,302.7L676.4,302.6L677.7,304.6L677.2,306.0L676.0,306.7L674.7,306.4L673.7,307.8L672.3,307.1L671.4,308.2L670.1,309.0L669.5,310.5L668.2,311.2L667.0,312.2L665.7,313.0L664.9,314.5L664.8,316.0L663.5,316.9L664.1,318.8L663.3,320.0L661.0,320.8L659.0,320.6L645.8,311.0L634.8,312.6L632.8,309.4L631.6,309.0L618.1,310.4L611.6,313.8L599.5,315.4Z"/><path fill="#f6a192" d="M603.3,294.9L622.6,292.3L678.5,282.6L677.4,281.2L676.8,279.5L675.2,277.2L674.8,275.6L673.8,274.2L673.9,272.5L673.5,270.6L672.5,269.0L671.1,267.3L670.9,265.0L669.6,264.6L668.2,264.4L666.9,264.3L665.5,264.4L664.4,263.9L663.2,263.2L662.0,263.1L660.8,262.8L661.2,261.4L660.8,259.7L660.9,258.3L661.6,257.0L660.3,256.2L659.2,255.0L657.6,254.9L656.6,253.5L655.0,252.7L653.4,252.3L652.1,251.9L650.8,251.7L649.4,251.7L648.1,252.0L647.9,254.2L648.5,256.4L647.5,257.5L646.9,259.0L646.2,260.4L645.9,262.1L644.9,263.3L643.7,264.1L642.7,265.4L641.6,266.4L640.5,265.4L639.2,265.0L637.9,264.6L636.9,265.6L636.5,267.1L635.7,268.3L635.5,270.0L635.5,271.6L635.1,273.1L634.5,274.4L634.5,276.0L634.7,277.7L634.1,279.1L632.8,279.0L632.0,280.3L630.7,280.3L629.7,280.8L628.6,281.2L627.6,282.4L626.3,282.7L625.3,283.6L624.2,284.4L622.9,284.0L621.6,283.6L620.6,282.3L619.2,282.1L618.1,281.1L617.0,282.1L616.1,283.5L615.0,284.4L613.5,284.7L612.7,286.1L611.8,287.3L611.2,288.7L610.3,289.8L609.4,291.0L608.2,291.2L607.6,292.8L606.2,292.6L605.5,294.1L604.1,293.9L603.3,294.9ZM673.6,265.6L674.6,267.3L674.5,269.5L675.8,271.0L675.7,273.0L677.0,274.5L677.3,276.3L677.2,274.5L678.5,273.4L678.5,271.7L678.6,270.0L678.7,268.5L679.8,267.6L679.3,265.7L680.2,264.7L680.6,263.3L673.6,265.6Z"/><path fill="#fac0b2" d="M637.1,250.6L627.5,252.2L625.6,241.0L626.1,243.2L625.6,245.3L625.0,246.7L624.9,248.3L624.5,249.8L625.0,251.5L624.5,253.0L623.5,253.8L622.5,254.7L621.8,256.0L621.2,257.5L620.1,258.1L619.3,259.2L618.0,259.4L617.1,260.4L616.4,262.2L616.2,264.3L615.8,266.0L614.8,267.1L614.0,268.4L613.4,270.0L612.1,271.0L611.4,272.4L611.0,274.2L611.8,275.7L612.5,277.3L614.0,277.9L614.6,279.6L615.8,280.0L616.9,280.8L618.1,281.1L619.2,282.1L620.6,282.3L621.6,283.6L622.9,284.0L624.2,284.4L625.3,283.6L626.3,282.7L627.6,282.4L628.6,281.2L629.7,280.8L630.7,280.3L632.0,280.3L632.8,279.0L634.1,279.1L634.7,277.7L634.5,276.0L634.5,274.4L635.1,273.1L635.5,271.6L635.5,270.0L635.7,268.3L636.5,267.1L636.9,265.6L637.9,264.6L639.2,265.0L640.5,265.4L641.6,266.4L642.7,265.4L643.7,264.1L644.9,263.3L645.9,262.1L646.2,260.4L646.9,259.0L647.5,257.5L648.5,256.4L647.9,254.2L648.1,252.0L649.4,251.7L650.8,251.7L652.1,251.9L653.4,252.3L652.1,252.0L650.8,251.3L649.6,250.5L648.2,250.1L647.1,250.1L645.8,250.0L644.7,250.3L643.6,251.0L642.4,251.5L642.0,253.2L640.8,253.7L639.8,254.6L638.8,255.6L638.2,257.0L637.6,255.4L637.3,253.8L637.2,252.2L637.1,250.6Z"/><path fill="#ce6161" d="M623.0,224.6L629.1,220.0L629.7,223.2L668.8,215.5L671.9,217.4L676.5,221.9L675.5,223.0L675.6,225.1L674.7,226.4L674.0,227.7L674.4,229.9L675.4,231.8L676.1,233.2L677.1,234.3L678.1,235.2L679.2,236.1L678.5,237.5L677.4,238.4L676.7,239.8L675.2,240.7L674.2,242.3L672.4,242.1L671.1,243.9L637.1,250.6L627.5,252.2L625.6,241.0L623.0,224.6Z"/><path fill="#a30000" d="M629.1,220.0L630.0,218.9L630.7,217.7L631.1,216.1L632.6,215.9L633.3,214.7L633.7,213.0L635.1,212.7L635.4,210.9L635.2,209.2L634.1,208.1L633.3,206.9L634.6,207.2L635.6,206.4L636.8,206.3L637.7,205.3L638.9,205.0L640.1,205.2L641.1,204.2L642.2,204.0L643.5,204.2L644.7,205.0L646.0,204.5L646.7,203.3L648.1,204.0L649.2,203.7L650.2,203.3L651.0,201.9L651.8,201.0L652.9,200.7L654.1,200.8L655.1,200.2L656.4,199.3L657.3,197.8L657.2,196.0L655.8,195.0L655.3,193.5L654.7,192.1L655.6,191.2L656.1,189.8L657.1,189.0L657.4,187.3L658.5,186.8L659.1,185.5L660.3,185.0L660.5,183.1L662.1,183.1L662.4,181.4L663.3,180.5L664.0,179.3L665.4,179.2L666.4,178.1L667.6,178.6L668.4,177.2L669.7,178.2L670.5,177.1L671.4,176.2L672.8,177.2L673.8,176.9L674.6,175.9L675.7,175.8L676.7,175.4L677.8,175.3L678.1,176.9L678.5,178.4L679.0,179.9L679.3,181.4L679.7,183.0L679.7,184.6L680.5,186.2L680.7,187.8L680.3,189.5L681.3,191.0L681.3,192.6L682.1,193.8L682.6,195.2L682.6,196.9L683.7,198.0L684.1,199.4L684.2,201.1L685.2,202.2L685.1,211.1L686.8,220.3L686.7,224.2L686.0,226.8L684.5,228.5L682.8,231.4L684.4,227.9L684.4,224.7L676.5,221.9L671.9,217.4L668.8,215.5L629.7,223.2L629.1,220.0ZM685.0,228.6L689.5,227.4L694.0,225.2L698.5,222.6L702.6,219.4L698.5,221.0L694.0,222.4L689.5,224.2L686.0,225.6L685.0,228.6Z"/><path fill="#d23232" d="M676.5,221.9L684.4,224.7L684.4,227.9L682.8,231.4L684.0,230.9L685.2,231.5L685.8,233.3L685.5,235.2L686.1,237.0L686.2,238.8L685.7,240.3L685.7,242.0L685.2,243.6L684.7,244.9L684.2,246.3L683.2,247.2L682.8,248.9L682.2,250.5L681.3,251.7L680.2,250.5L678.9,250.2L677.8,249.1L676.6,248.1L675.3,247.3L674.2,246.1L674.2,244.2L674.2,242.3L675.2,240.7L676.7,239.8L677.4,238.4L678.5,237.5L679.2,236.1L678.1,235.2L677.1,234.3L676.1,233.2L675.4,231.8L674.4,229.9L674.0,227.7L674.7,226.4L675.6,225.1L675.5,223.0L676.5,221.9Z"/><path fill="#fac0b2" d="M671.1,243.9L672.4,242.1L674.2,242.3L673.5,244.1L673.8,246.2L674.4,247.6L675.4,248.7L676.1,250.1L677.1,251.1L678.3,251.8L679.1,253.3L680.3,253.8L681.0,255.8L681.2,257.8L675.2,259.2L671.1,243.9Z"/><path fill="#f6a192" d="M637.1,250.6L671.1,243.9L675.2,259.2L681.2,257.8L680.9,259.6L680.9,261.5L680.6,263.3L673.6,265.6L673.2,263.9L672.5,262.4L671.2,261.4L670.6,259.8L670.9,258.1L670.3,256.5L669.8,255.0L670.4,253.5L669.8,252.0L670.1,250.1L669.2,248.3L668.0,249.0L668.1,250.7L667.4,252.0L667.9,253.5L668.2,255.0L667.9,256.5L668.5,258.1L668.0,259.9L668.9,261.4L670.0,263.1L670.9,265.0L669.6,264.6L668.2,264.4L666.9,264.3L665.5,264.4L664.4,263.9L663.2,263.2L662.0,263.1L660.8,262.8L661.2,261.4L660.8,259.7L660.9,258.3L661.6,257.0L660.3,256.2L659.2,255.0L657.6,254.9L656.6,253.5L655.0,252.7L653.4,252.3L652.1,252.0L650.8,251.3L649.6,250.5L648.2,250.1L647.1,250.1L645.8,250.0L644.7,250.3L643.6,251.0L642.4,251.5L642.0,253.2L640.8,253.7L639.8,254.6L638.8,255.6L638.2,257.0L637.6,255.4L637.3,253.8L637.2,252.2L637.1,250.6Z"/><path fill="#fac0b2" d="M677.8,175.3L693.3,171.4L693.7,173.4L693.5,175.3L692.8,176.6L692.7,178.4L691.7,179.4L691.3,180.9L691.1,182.5L690.8,184.0L690.8,185.6L690.5,187.1L690.6,188.8L690.3,190.3L691.1,191.9L690.9,193.4L691.3,195.0L691.3,196.9L691.7,198.8L692.2,200.7L685.2,202.2L684.2,201.1L684.1,199.4L683.7,198.0L682.6,196.9L682.6,195.2L682.1,193.8L681.3,192.6L681.3,191.0L680.3,189.5L680.7,187.8L680.5,186.2L679.7,184.6L679.7,183.0L679.3,181.4L679.0,179.9L678.5,178.4L678.1,176.9L677.8,175.3Z"/><path fill="#fac0b2" d="M693.3,171.4L695.9,167.0L701.6,184.6L705.4,192.5L706.3,192.7L705.9,195.3L702.3,198.5L692.2,200.7L691.7,198.8L691.3,196.9L691.3,195.0L690.9,193.4L691.1,191.9L690.3,190.3L690.6,188.8L690.5,187.1L690.8,185.6L690.8,184.0L691.1,182.5L691.3,180.9L691.7,179.4L692.7,178.4L692.8,176.6L693.5,175.3L693.7,173.4L693.3,171.4Z"/><path fill="#fac0b2" d="M695.9,167.0L696.7,165.9L697.5,165.0L698.0,163.7L698.1,162.0L698.5,160.6L700.0,160.3L700.0,158.6L700.7,157.4L700.3,155.8L701.1,154.4L700.1,152.6L700.9,151.2L700.2,149.6L700.3,148.0L700.6,146.8L701.0,145.5L701.7,144.6L702.0,143.3L702.2,142.0L702.8,140.9L703.0,139.5L703.6,138.5L703.9,137.3L705.1,137.6L706.3,138.5L707.4,137.7L708.6,138.1L709.7,138.3L710.9,138.0L711.4,136.5L712.6,136.1L713.7,136.3L714.7,137.4L715.7,138.4L716.8,138.4L717.2,139.9L717.2,141.5L717.7,142.9L718.5,144.3L718.6,145.9L719.4,147.2L719.9,148.6L719.8,150.3L721.0,151.5L720.8,153.2L721.7,154.5L722.7,154.2L723.8,154.2L724.9,154.8L725.9,155.8L726.5,157.3L727.7,157.8L728.5,158.9L729.8,159.2L730.2,161.2L731.4,161.8L731.2,163.3L730.7,164.5L729.8,165.3L729.3,166.5L728.3,167.2L727.2,167.5L727.0,169.3L725.8,169.3L725.3,170.7L724.4,171.3L723.2,171.4L722.0,171.0L721.2,172.2L720.3,172.7L718.9,171.4L718.0,172.3L717.3,173.3L717.2,175.0L715.9,175.5L716.2,177.5L715.2,178.3L714.1,178.8L713.7,180.5L712.2,180.4L711.6,181.8L710.7,183.0L710.2,184.6L708.9,185.2L708.0,186.1L707.5,187.4L707.1,188.9L706.7,190.8L706.3,192.7L705.4,192.5L701.6,184.6L695.9,167.0Z"/><path fill="#ce6161" d="M692.2,200.7L702.3,198.5L705.9,195.3L706.6,197.2L707.7,198.7L707.4,200.2L707.4,201.9L706.3,202.9L707.1,204.7L707.7,206.6L709.5,207.6L710.8,207.1L712.3,207.5L713.6,207.0L715.0,205.2L714.0,203.6L715.2,202.7L717.0,203.6L717.6,205.9L716.4,206.6L716.4,208.4L715.1,207.9L714.0,208.3L713.0,209.2L711.5,209.7L710.0,209.8L708.2,211.0L707.7,212.4L703.8,206.8L700.1,207.7L685.1,211.1L685.2,202.2L692.2,200.7Z"/><path fill="#f6a192" d="M700.1,207.7L703.8,206.8L707.7,212.4L706.6,213.0L705.4,213.6L704.3,214.6L703.3,215.8L701.9,216.2L700.1,207.7Z"/><path fill="#f6a192" d="M685.1,211.1L700.1,207.7L701.9,216.2L700.9,217.2L699.7,217.2L698.4,217.4L697.3,217.8L696.3,218.6L695.0,218.8L694.0,219.9L692.6,220.1L691.7,221.2L690.5,221.9L689.1,222.3L688.0,223.5L686.7,224.2L686.8,220.3L685.1,211.1Z"/><path fill="#f6a192" d="M566.6,234.8L584.9,233.5L597.1,232.0L598.1,231.1L598.9,230.1L599.2,228.6L599.7,227.3L599.8,225.7L600.2,224.3L600.3,222.8L600.9,221.4L601.5,220.2L602.4,219.1L602.8,217.4L603.7,216.2L604.3,214.8L603.4,213.5L603.2,211.9L602.9,210.3L601.9,209.2L601.5,207.7L600.2,207.0L599.8,204.8L598.3,204.3L597.7,202.6L596.4,202.6L595.6,203.8L594.9,204.9L593.7,205.4L593.1,207.0L592.3,208.1L591.2,208.7L590.1,209.2L590.7,207.8L590.4,205.9L591.5,204.8L592.0,203.4L591.6,201.4L592.5,200.2L592.4,198.6L592.4,197.0L592.5,195.5L592.2,193.8L592.9,192.4L593.0,190.8L591.7,190.6L590.6,189.6L589.4,189.0L588.5,187.6L587.3,187.3L586.3,186.1L585.2,185.8L584.2,184.9L583.1,184.3L582.0,184.6L581.0,183.2L579.9,183.5L579.5,185.2L578.1,185.5L577.7,187.2L576.4,187.6L575.5,188.7L575.1,190.9L573.8,191.3L573.5,192.9L573.2,194.5L573.5,196.3L572.5,195.4L571.4,195.3L570.3,196.2L569.3,196.0L568.2,195.6L568.2,197.2L568.0,198.6L567.0,199.7L567.4,201.4L566.9,202.8L567.2,204.4L566.6,205.7L567.2,207.2L567.5,208.8L566.7,210.5L567.9,211.9L568.2,213.5L568.5,215.0L568.2,216.7L568.2,218.5L568.7,220.1L569.1,221.7L569.5,223.4L570.9,224.6L570.9,226.4L570.7,227.9L569.9,228.9L569.4,230.3L568.6,231.3L567.6,232.1L566.8,233.1L566.6,234.8ZM530.6,178.2L531.9,178.3L532.7,176.8L533.9,177.2L534.9,176.6L536.0,175.9L537.2,176.1L538.0,174.9L539.1,174.6L540.0,173.8L540.7,172.5L541.9,172.3L542.8,171.7L543.7,170.8L544.3,169.1L545.6,168.8L546.3,167.3L547.6,166.8L548.6,166.3L549.9,167.0L550.8,165.9L550.1,167.0L549.6,168.2L549.3,169.7L548.3,170.4L548.0,172.0L547.2,172.9L548.3,173.4L549.3,174.5L550.6,173.9L551.5,175.7L552.8,175.0L553.7,176.6L554.8,177.4L556.0,177.1L557.2,177.6L558.3,176.6L559.4,176.3L560.6,177.9L561.7,177.1L562.9,177.1L563.9,176.3L564.6,175.1L566.0,175.2L566.8,174.0L567.8,173.7L568.9,173.8L569.8,172.7L570.9,173.5L571.8,172.1L573.0,173.0L574.0,172.9L574.9,171.8L575.9,172.0L576.9,172.8L577.6,174.1L578.9,174.2L579.7,175.2L580.5,176.6L581.8,176.3L582.7,177.2L583.7,177.8L584.5,178.9L583.6,179.8L582.5,180.1L581.6,180.9L580.6,181.6L579.7,182.5L578.6,183.0L577.4,181.5L576.2,182.7L575.1,181.1L573.9,181.2L572.8,181.6L571.6,181.6L570.8,183.2L569.6,183.0L568.5,183.2L567.6,184.5L566.3,183.9L565.4,184.8L564.3,185.1L563.4,185.6L562.5,186.3L561.4,186.6L560.4,186.5L559.9,187.8L558.9,188.6L558.3,189.7L557.5,190.6L557.5,192.5L556.7,193.4L555.9,194.4L554.7,192.9L553.5,191.5L552.9,190.0L552.1,188.9L551.8,187.2L550.9,186.2L549.8,185.7L548.7,185.7L547.6,185.2L546.6,184.7L545.5,184.1L544.4,183.5L543.2,183.4L542.0,183.2L541.0,182.7L539.9,182.4L538.9,181.7L537.8,181.6L536.7,181.4L535.9,180.1L534.7,180.2L533.7,179.9L532.7,178.9L531.7,178.6L530.6,178.2Z"/><path fill="none" stroke="rgba(40,10,10,0.28)" stroke-width="1.1" d="M267.8,119.4L266.5,126.7L265.8,128.6L264.7,129.9L263.3,130.0L261.1,128.1L259.8,128.1L259.0,127.2L256.9,127.4L256.3,126.1L254.2,126.0L253.9,124.3L252.9,123.9L252.3,122.8L251.0,122.8L250.1,122.0L249.3,123.8L250.3,127.1L250.1,130.8L249.4,132.8L249.9,134.5L249.4,136.5L250.4,137.9L250.0,141.5L248.2,144.8L247.6,149.9L247.7,151.4L246.1,154.3L246.2,156.0L245.2,160.9L242.4,166.5L241.8,169.6L240.3,170.6L239.1,175.2L239.1,176.9L236.6,180.5L235.4,181.0L234.0,183.8L232.7,184.6L232.2,186.2L231.3,187.4L230.7,189.4L231.7,191.1L231.0,193.1L231.4,194.7L230.8,196.6L231.1,199.8L230.5,201.2L229.3,202.5L229.5,204.2L228.8,205.8L229.0,208.9L228.5,210.4L226.1,213.8L225.6,215.3L224.1,216.2L223.8,218.0L226.1,222.4L226.9,225.4L226.0,226.8L226.0,228.7L225.0,230.0L225.4,231.6L224.6,233.2L224.6,236.4L226.4,240.3L226.2,243.7L227.7,246.1L227.8,249.1L229.2,249.1L230.0,250.4L231.3,250.3L232.4,251.1L233.8,250.4L236.0,251.9L234.9,253.0L233.7,253.1L231.8,252.6L231.1,255.1L231.3,258.4L230.6,260.1L232.9,262.4L234.8,266.5L232.8,268.4L233.1,270.4L232.3,272.2L232.4,274.0L233.3,275.1L234.6,275.8L235.2,278.9L237.2,281.0L237.2,282.9L239.0,285.0L238.8,287.0L240.3,288.1L240.5,291.5L239.9,293.1L239.9,294.8L238.9,296.4L240.2,298.2L241.6,299.3L244.7,299.3L245.8,300.3L247.2,300.2L249.6,301.3L249.4,303.4L251.5,304.9L252.4,306.3L254.1,306.4L255.0,307.7L257.9,308.1L257.4,309.9L258.2,311.6L260.6,312.7L263.1,314.9L263.9,316.5L265.1,317.7L265.6,319.6L267.0,320.7L267.6,322.4L267.2,324.4L267.6,326.0L267.5,329.3L292.0,332.1L290.6,334.6L326.4,355.7L356.0,360.0L356.9,354.5L374.0,356.5L374.8,358.0L376.2,358.8L377.0,360.3L379.1,361.9L381.5,365.4L382.8,365.9L383.7,367.0L385.0,367.7L385.5,369.3L386.8,370.1L388.4,372.6L388.6,374.4L390.2,375.5L391.2,380.8L392.3,382.3L392.7,384.1L395.0,385.7L397.6,388.9L399.0,389.4L400.1,390.6L404.4,391.8L407.0,394.2L408.9,391.5L410.1,390.4L410.7,388.4L411.9,386.9L414.4,385.8L415.3,384.7L416.7,384.2L419.4,385.0L420.8,384.6L423.5,384.9L426.0,386.2L426.8,387.4L430.9,391.4L431.7,392.6L432.0,394.3L433.2,395.2L435.7,402.1L435.7,403.9L437.3,406.8L439.4,409.0L441.1,409.2L442.7,412.0L444.9,414.4L445.6,418.9L447.9,424.5L448.8,425.7L448.9,427.3L450.7,427.8L453.5,429.5L456.4,430.4L457.7,431.3L461.8,431.8L462.9,433.1L464.4,432.9L465.8,433.6L467.5,433.3L470.7,433.9L470.6,431.8L469.5,430.1L469.1,428.3L468.2,426.8L469.4,425.0L467.9,420.4L468.9,418.8L468.1,417.3L468.7,414.3L468.3,412.6L469.3,411.3L473.7,408.4L474.7,406.5L476.6,406.1L480.5,402.8L482.4,403.1L484.5,400.5L486.4,401.1L487.4,399.6L488.8,399.2L491.2,396.4L493.1,396.1L493.9,394.7L498.6,391.3L500.3,390.9L502.9,388.5L504.8,389.0L507.6,387.1L509.3,388.1L510.7,387.1L514.8,386.8L517.4,387.6L518.5,388.7L519.9,389.2L521.5,388.8L522.8,389.2L525.5,388.6L526.8,390.3L528.2,389.6L530.7,391.4L532.1,391.7L533.7,391.8L535.2,391.0L538.1,391.6L539.7,392.4L542.7,392.2L544.0,393.3L545.6,393.6L547.4,393.4L548.3,391.4L549.7,390.9L551.2,391.3L552.4,393.0L555.7,393.2L557.0,392.0L558.5,391.9L557.8,389.9L556.1,388.9L554.6,388.8L553.6,388.2L552.4,384.9L553.6,383.2L553.5,381.2L551.4,379.8L552.6,378.8L558.3,377.6L559.4,376.7L562.2,377.0L563.6,376.3L565.2,376.5L566.9,377.3L567.6,375.4L567.7,373.9L568.8,376.0L569.1,377.7L570.2,376.7L570.7,375.1L572.3,373.0L576.2,374.7L579.2,373.8L582.3,373.6L588.5,374.4L590.0,375.3L591.5,375.5L593.3,378.0L595.9,379.3L597.0,380.5L599.7,380.5L600.9,379.4L602.2,379.0L602.7,377.2L604.9,375.7L606.2,375.6L607.8,376.0L609.3,375.5L610.8,375.5L612.0,376.3L613.5,376.1L617.9,380.2L623.1,384.0L624.0,387.0L626.0,389.3L625.7,392.3L625.2,393.8L626.2,395.5L625.7,397.1L627.1,397.9L628.1,400.9L629.3,402.6L629.2,404.8L630.7,407.5L634.6,410.2L634.8,412.3L636.2,413.3L637.7,417.1L638.8,418.4L640.2,419.2L642.3,421.7L643.7,422.4L644.5,424.0L645.9,424.8L646.8,426.1L648.5,426.4L650.8,428.1L651.6,429.4L656.3,430.3L657.6,428.9L657.7,426.9L658.7,425.6L659.4,423.9L658.7,417.1L659.5,413.9L658.2,409.3L658.7,407.6L657.1,405.0L656.2,402.0L654.7,401.2L655.2,399.3L654.0,398.2L652.6,395.5L652.4,393.7L650.8,392.9L650.8,391.0L649.5,389.9L649.0,388.3L647.1,385.3L645.7,384.6L645.6,382.8L644.7,381.6L643.2,381.0L643.3,378.8L641.8,378.2L640.1,375.8L639.9,374.0L636.5,369.2L636.8,367.3L635.5,365.5L636.1,363.7L635.8,362.0L636.8,360.5L636.5,358.7L636.9,357.1L636.7,355.4L637.2,353.9L638.1,352.7L637.6,350.8L638.8,349.8L639.5,348.5L639.6,346.9L640.6,345.9L642.5,341.6L644.3,339.1L647.0,337.8L649.0,335.4L649.6,333.7L650.6,332.6L651.7,331.8L653.5,331.5L654.0,329.8L656.1,327.6L656.0,325.7L657.0,324.6L657.1,322.8L657.8,321.6L659.0,320.7L661.0,321.0L663.4,320.1L664.3,318.9L663.7,317.0L665.0,316.1L665.0,314.5L665.8,313.1L669.6,310.7L670.2,309.1L672.3,307.3L673.7,308.0L674.8,306.6L676.1,306.8L677.3,306.1L677.8,304.6L676.5,302.5L675.2,302.5L672.7,301.3L671.8,301.8L672.5,300.3L674.1,299.2L672.8,298.0L670.5,297.7L673.1,297.0L674.8,297.3L676.2,296.2L677.7,296.1L679.3,295.3L680.7,294.0L679.8,291.0L678.4,291.2L677.3,289.7L675.9,289.8L674.9,290.5L673.4,289.6L672.4,290.4L670.6,287.2L671.8,287.4L672.7,285.7L675.0,284.7L676.5,285.0L677.4,283.6L678.7,282.5L677.6,281.1L676.9,279.4L675.3,277.1L675.0,275.6L673.9,274.2L674.0,272.5L673.6,270.5L671.3,267.2L671.0,264.9L668.2,259.9L668.7,258.1L668.1,256.5L668.4,255.0L667.6,252.0L668.2,250.7L668.2,249.1L669.1,248.5L669.9,250.1L669.6,252.0L670.2,253.5L669.7,255.0L670.8,258.1L670.5,259.9L671.1,261.5L672.4,262.5L673.1,263.9L673.5,265.7L674.4,267.3L674.3,269.6L675.6,271.1L675.5,273.0L676.9,274.5L677.4,276.4L677.4,274.6L678.7,273.4L678.8,268.6L680.0,267.6L679.5,265.8L680.3,264.7L681.1,261.6L681.2,255.8L680.4,253.8L679.2,253.1L678.4,251.7L676.2,250.0L674.6,247.5L673.9,246.1L673.7,244.1L674.0,243.1L674.1,246.2L678.8,250.3L680.2,250.7L681.4,251.8L682.3,250.5L683.3,247.3L684.3,246.4L685.8,242.1L686.4,238.8L685.6,235.2L685.9,233.3L685.4,231.4L684.0,230.8L683.2,231.1L684.7,228.5L685.0,228.2L685.0,228.7L689.6,227.5L694.1,225.3L698.6,222.7L702.7,219.4L693.9,222.3L686.6,225.2L686.9,224.3L689.2,222.4L691.8,221.3L692.7,220.2L694.1,220.0L695.1,219.0L696.4,218.7L698.5,217.5L701.0,217.3L701.9,216.4L703.3,215.9L705.5,213.8L707.8,212.5L708.3,211.1L710.1,209.9L713.0,209.3L715.1,208.0L716.5,208.5L716.6,206.7L717.7,205.9L717.1,203.5L715.2,202.6L713.9,203.6L714.8,205.2L713.5,206.9L712.3,207.4L710.8,207.0L709.5,207.4L707.8,206.5L706.5,202.9L707.5,202.0L707.8,198.7L706.7,197.1L706.1,195.3L707.6,187.4L708.1,186.2L709.0,185.3L710.3,184.7L710.8,183.0L712.3,180.6L713.8,180.6L714.2,178.9L716.3,177.6L716.1,175.6L717.3,175.0L717.4,173.4L718.1,172.4L718.9,171.6L720.3,172.8L721.3,172.4L722.1,171.2L724.5,171.5L725.4,170.8L725.9,169.5L727.1,169.5L727.4,167.6L729.4,166.6L729.9,165.4L730.8,164.6L731.5,161.8L730.3,161.1L729.9,159.1L728.6,158.8L727.8,157.7L726.6,157.2L726.0,155.7L725.0,154.7L723.8,154.1L721.8,154.3L720.9,153.1L721.1,151.5L720.0,150.2L720.1,148.6L718.7,145.8L718.6,144.3L717.4,141.5L716.9,138.3L715.7,138.2L713.8,136.2L712.6,136.0L711.3,136.3L710.8,137.8L709.7,138.1L707.4,137.5L706.3,138.3L705.2,137.5L703.8,137.2L702.8,139.5L701.6,144.6L700.8,145.4L700.1,148.0L700.1,149.6L700.7,151.2L699.9,152.7L701.0,154.4L700.2,155.8L700.5,157.4L699.9,158.5L699.9,160.2L698.4,160.5L697.4,165.0L695.8,166.9L693.2,171.3L674.6,175.8L673.7,176.8L672.8,177.1L671.4,176.0L669.7,178.0L668.3,177.0L667.6,178.4L666.4,178.0L665.3,179.0L663.9,179.2L662.3,181.4L662.0,183.0L660.4,183.0L660.2,184.9L659.0,185.3L658.4,186.7L657.2,187.2L656.9,188.9L656.0,189.7L655.5,191.1L654.6,192.0L655.7,195.1L657.0,196.1L657.1,197.8L656.3,199.2L654.1,200.7L651.8,200.9L650.1,203.1L649.2,203.5L648.2,203.8L646.7,203.2L645.9,204.4L644.8,204.8L643.5,204.1L641.0,204.0L640.1,205.1L638.9,204.8L637.7,205.2L636.7,206.2L635.5,206.3L634.5,207.1L633.2,206.8L635.0,209.2L635.2,210.9L634.9,212.5L633.6,212.9L632.5,215.8L631.0,216.0L630.6,217.6L629.0,219.8L622.9,224.5L622.0,225.6L619.8,225.8L617.6,226.8L616.9,228.2L614.7,229.7L614.5,231.8L611.8,231.9L610.5,232.4L607.9,232.4L606.9,234.1L599.8,233.3L598.6,231.8L597.5,231.8L599.1,230.2L600.5,222.8L604.5,214.8L603.6,213.5L603.0,210.3L602.0,209.1L601.6,207.6L600.3,206.9L599.9,204.7L598.4,204.2L597.7,202.5L596.3,202.5L594.8,204.7L593.6,205.3L592.2,208.0L590.4,208.9L590.8,207.9L590.6,206.0L591.6,204.9L592.1,203.4L591.8,201.5L592.6,200.2L592.4,193.8L593.1,192.4L593.1,190.8L591.8,190.4L589.5,188.9L588.6,187.5L587.3,187.1L586.3,186.0L585.2,185.7L583.2,184.2L582.0,184.4L581.1,183.1L579.8,183.3L579.4,185.1L578.0,185.4L577.6,187.1L576.3,187.4L575.3,188.6L575.0,190.8L573.7,191.3L573.0,194.5L573.3,195.9L572.5,195.2L571.4,195.1L570.3,196.1L568.1,195.6L567.9,198.6L566.9,199.7L567.2,201.4L566.8,202.8L567.1,204.4L566.5,205.7L567.4,208.7L566.6,210.5L567.8,212.0L568.3,215.0L568.0,218.6L569.3,223.5L570.7,224.6L570.8,226.3L570.5,227.8L569.7,228.8L569.3,230.2L566.7,233.1L566.5,234.7L563.3,236.6L560.3,236.0L557.1,226.5L556.4,221.3L555.6,219.7L556.6,215.2L556.1,211.9L557.2,207.6L557.1,204.6L557.9,203.3L557.6,201.7L558.4,200.5L558.6,198.9L559.3,197.7L559.4,195.9L561.0,193.6L561.4,191.9L558.4,194.3L557.8,195.8L556.8,196.7L556.4,198.2L555.4,198.6L554.0,200.9L553.3,201.1L553.9,200.2L554.0,198.4L555.7,196.1L556.0,194.4L557.6,192.6L557.6,190.7L560.0,187.9L560.5,186.7L562.5,186.4L565.4,184.9L566.3,184.1L567.7,184.7L568.6,183.4L570.9,183.3L571.7,181.8L575.0,181.2L576.2,182.8L577.4,181.7L578.6,183.1L579.8,182.6L582.6,180.3L583.7,180.0L584.6,179.0L583.8,177.7L581.9,176.1L580.5,176.4L579.0,174.1L577.7,174.0L577.0,172.7L576.0,171.8L574.8,171.7L573.9,172.7L573.0,172.8L571.7,172.0L570.9,173.3L569.7,172.6L568.8,173.6L566.7,173.8L565.9,175.1L564.6,174.9L562.8,176.9L561.7,176.9L560.7,177.7L559.4,176.1L558.2,176.5L557.2,177.4L556.1,176.9L554.8,177.2L553.8,176.5L552.9,174.9L551.6,175.5L550.7,173.8L549.4,174.3L547.5,172.9L548.2,172.0L548.4,170.5L549.4,169.8L550.8,165.8L549.8,166.8L548.6,166.1L546.2,167.2L545.5,168.6L544.2,169.0L542.7,171.6L540.7,172.4L539.9,173.7L538.0,174.7L537.1,176.0L535.9,175.8L533.9,177.1L532.6,176.7L531.8,178.2L530.7,178.0L530.1,176.5L528.2,174.3L527.0,173.6L526.0,174.8L523.7,175.0L522.5,174.5L521.6,176.1L520.4,175.0L518.3,176.9L517.3,176.8L516.5,176.6L519.9,172.7L521.1,172.3L521.8,171.0L523.1,171.1L525.4,167.5L526.2,166.8L527.6,166.8L528.2,165.3L529.9,163.4L532.3,163.2L534.1,161.1L535.3,161.4L536.3,160.2L535.2,160.5L534.2,160.0L533.2,160.2L530.2,159.4L528.3,159.8L527.2,159.0L525.1,160.1L523.9,159.8L520.5,160.4L518.5,159.2L517.3,159.4L514.4,157.1L513.2,157.3L510.2,155.2L507.8,155.5L504.6,154.4L501.3,155.4L499.3,155.3L498.4,154.5L496.3,154.1L494.5,152.9L494.5,151.4L493.6,150.3L493.7,148.7L492.9,146.0L491.4,145.3L490.0,145.3L490.2,146.8L489.6,148.4L490.0,149.8L487.2,149.4L485.2,149.8L484.2,149.5L482.1,149.7L481.2,150.3L479.2,149.3L478.1,149.5L477.2,150.2L476.2,149.7L475.2,150.3L474.2,149.2L473.1,149.7L417.6,147.1L320.9,132.7L267.8,119.4Z"/><g stroke="rgba(30,0,0,0.55)" stroke-width="1.1"><path fill="#f6a192" d="M213.1,369.3L214.3,370.4L215.0,371.8L216.0,373.0L216.7,374.0L217.2,375.1L217.8,376.1L218.5,377.1L220.1,377.6L221.3,378.7L222.8,379.2L223.8,380.4L222.0,380.7L220.5,381.6L219.1,380.9L217.9,380.1L216.8,379.1L215.2,379.1L213.8,380.0L212.3,380.4L211.0,380.5L210.0,381.3L208.8,381.6L207.7,382.1L208.8,382.8L209.3,384.0L210.2,384.9L210.1,386.4L210.6,387.8L211.7,388.4L212.7,389.1L213.9,389.4L215.2,389.9L216.7,389.6L218.0,390.3L219.7,389.9L221.3,389.0L221.6,390.7L222.1,392.3L221.5,393.6L220.5,394.8L219.3,395.4L217.9,394.9L216.8,395.4L215.5,395.6L214.0,396.5L212.7,397.7L211.5,398.4L210.7,399.4L209.7,400.1L209.0,401.3L208.4,402.6L207.7,403.8L208.0,405.1L208.9,406.2L209.4,407.5L210.6,408.5L212.2,408.7L211.5,409.8L211.4,411.2L213.1,411.2L214.7,412.0L215.5,413.2L216.0,414.6L216.3,416.1L215.7,417.5L216.0,418.9L217.3,418.7L218.7,418.7L220.0,418.3L221.3,418.3L222.5,419.0L223.8,419.6L224.9,420.4L226.1,419.9L227.3,419.8L228.5,419.4L228.2,420.7L227.6,421.9L227.6,423.3L227.5,424.6L226.4,425.4L225.6,426.5L224.6,427.4L224.0,428.7L223.3,429.8L222.5,430.8L221.1,431.1L220.0,431.8L219.2,432.9L217.8,433.1L216.6,433.9L215.2,434.3L214.0,435.0L212.9,435.8L211.5,435.8L210.4,436.5L209.3,437.2L208.2,437.9L206.7,437.8L205.6,438.6L206.7,439.7L208.1,439.7L209.0,438.5L210.4,438.7L211.5,437.9L212.7,437.2L214.0,437.1L215.1,436.4L216.5,436.3L217.8,435.9L218.7,434.7L220.1,434.6L221.3,434.0L222.1,433.0L223.5,432.9L224.3,432.0L225.6,431.8L226.7,431.3L227.5,430.3L228.4,429.5L229.6,429.0L230.1,427.7L230.8,426.8L232.1,426.3L232.6,425.1L233.8,424.6L234.2,423.2L235.0,422.1L235.8,420.9L236.1,419.5L237.0,418.4L237.3,417.1L238.6,416.3L238.8,414.9L240.0,414.1L240.6,412.9L240.9,411.6L241.6,410.6L242.4,409.6L243.3,408.7L244.1,407.8L244.8,406.7L244.7,408.1L244.8,409.6L244.4,410.9L244.0,412.2L243.4,413.5L243.5,414.9L243.2,416.2L242.8,417.5L244.1,416.9L245.1,415.8L246.4,415.1L247.7,414.5L248.8,413.8L249.2,412.6L249.9,411.6L250.6,410.6L250.2,409.1L250.6,407.7L251.9,407.5L253.2,407.4L254.5,407.2L256.0,407.6L257.0,408.9L258.4,409.6L259.6,410.1L261.0,410.0L262.0,410.8L263.3,411.1L264.5,410.6L265.7,410.3L266.8,409.5L268.1,409.4L269.2,408.7L269.2,407.7L259.6,363.6L257.2,361.7L256.0,361.4L254.8,361.9L253.6,361.8L252.4,361.1L251.2,360.8L250.0,361.1L248.6,361.3L247.3,361.0L246.0,360.8L244.6,361.0L243.2,360.9L241.9,360.7L240.6,360.0L239.4,359.0L237.7,358.9L236.1,358.6L234.9,357.9L233.5,357.4L232.4,356.6L231.2,357.4L229.8,357.7L228.9,359.0L227.5,359.2L226.3,359.9L224.8,360.5L223.7,361.6L222.2,362.3L221.6,363.4L220.3,364.0L219.9,365.2L218.9,366.0L217.7,366.5L216.4,366.6L215.2,366.8L214.0,367.9Z"/><path fill="#f6a192" d="M269.2,407.7L273.1,407.7L277.0,411.6L280.9,412.6L282.9,408.7L284.0,410.5L283.0,418.0L276.0,414.5L270.2,411.1Z"/><path fill="#b88880" d="M282.9,408.7L287.7,411.6L293.6,416.5L302.4,421.4L304.3,426.3L299.5,430.2L295.5,427.2L288.7,423.3L282.9,417.5Z"/><path fill="none" stroke="#7a5a58" stroke-width="0.9" d="M284,411L290,415.5L296,419.5L302,423.5M285.5,415L292,419L298.5,424.5M288,412L295,417.5L303,424.5M291,421.5L299,428"/><path fill="#f6a192" d="M235.6,427.9L237.2,428.8L242.8,423.4L241.6,421.9L238.2,424.6Z"/><path fill="#f6a192" d="M197.0,389.5L199.5,390.0L203.5,393.0L202.8,394.2L199.5,392.2L197.2,391.0Z"/><path fill="none" stroke-width="1.3" d="M191.0,444.9L194,442.6L196,443.2L199.9,440.9"/><path fill="none" stroke-width="1.2" d="M171.3,443.9L175.4,443.9"/><ellipse cx="205.8" cy="410.4" rx="1.9" ry="1.4" fill="#f6a192"/><ellipse cx="190.6" cy="404.6" rx="0.8" ry="0.6" fill="#f6a192"/></g><g stroke="rgba(30,0,0,0.55)" stroke-width="1.1"><path fill="#f6a192" d="M335.6,402.2L340.4,404.5L346.4,409.9L342.2,413.8L337.2,416.6L334.9,412.4L333.5,407.3Z"/><ellipse cx="297.9" cy="382.6" rx="2.8" ry="2.0" fill="#f6a192"/><ellipse cx="313.8" cy="389.1" rx="2.6" ry="2.2" fill="#f6a192"/><ellipse cx="331.2" cy="396.4" rx="3.1" ry="1.9" fill="#f6a192"/><ellipse cx="323.3" cy="392.5" rx="2.6" ry="0.9" fill="#8e6a66" stroke="none"/><ellipse cx="291.5" cy="384.2" rx="1.2" ry="0.8" fill="#8e6a66" stroke="none"/><ellipse cx="324.2" cy="396.4" rx="1" ry="1" fill="#8e6a66" stroke="none"/></g><path fill="none" stroke="rgba(30,0,0,0.38)" stroke-width="1.3" d="M673.6,265.6L673.2,263.9L672.5,262.4L671.2,261.4L670.6,259.8L670.9,258.1L670.3,256.5L669.8,255.0L670.4,253.5L669.8,252.0L670.1,250.1L669.2,248.3L668.0,249.0L668.1,250.7L667.4,252.0L667.9,253.5L668.2,255.0L667.9,256.5L668.5,258.1L668.0,259.9L668.9,261.4L670.0,263.1L670.9,265.0M678.5,282.6L677.4,281.2L676.8,279.5L675.2,277.2L674.8,275.6L673.8,274.2L673.9,272.5L673.5,270.6L672.5,269.0L671.1,267.3L670.9,265.0M673.6,265.6L674.6,267.3L674.5,269.5L675.8,271.0L675.7,273.0L677.0,274.5L677.3,276.3L677.2,274.5L678.5,273.4L678.5,271.7L678.6,270.0L678.7,268.5L679.8,267.6L679.3,265.7L680.2,264.7L680.6,263.3M678.5,282.6L677.3,283.5L676.4,284.9L675.0,284.6L673.8,285.2L672.6,285.6L671.7,287.3L670.3,287.0L671.5,288.7L672.3,290.7L673.4,289.8L674.9,290.7L676.0,289.9L677.3,289.8L678.4,291.3L679.7,291.1L680.1,292.5L680.5,294.0L679.2,295.2L677.7,296.0L676.1,296.0L674.7,297.2L673.1,296.8L671.5,297.3L669.9,297.7L671.3,298.1L672.8,298.1L674.0,299.3L672.3,300.2L671.5,302.2L672.7,301.5L673.9,302.2L675.2,302.7L676.4,302.6L677.7,304.6L677.2,306.0L676.0,306.7L674.7,306.4L673.7,307.8L672.3,307.1L671.4,308.2L670.1,309.0L669.5,310.5L668.2,311.2L667.0,312.2L665.7,313.0L664.9,314.5L664.8,316.0L663.5,316.9L664.1,318.8L663.3,320.0L661.0,320.8L659.0,320.6"/><ellipse cx="544.3" cy="379.3" rx="2.2" ry="1.3" fill="#fff"/><ellipse cx="542.8" cy="163.5" rx="1.2" ry="0.6" fill="#f6a192"/><ellipse cx="244.4" cy="304.6" rx="3.0" ry="0.8" fill="#8a6a66" stroke="none"/><ellipse cx="258.4" cy="311.2" rx="0.6" ry="0.9" fill="#8a6a66" stroke="none"/><ellipse cx="256.8" cy="315.6" rx="0.8" ry="1.0" fill="#8a6a66" stroke="none"/><ellipse cx="254.8" cy="320.8" rx="0.7" ry="1.1" fill="#8a6a66" stroke="none"/><ellipse cx="711.9" cy="213.0" rx="1.2" ry="0.6" fill="#8a5050" stroke="none"/><ellipse cx="717.2" cy="212.3" rx="1.0" ry="0.6" fill="#8a5050" stroke="none"/><path fill="none" stroke="#5e4a4a" stroke-width="1.1" d="M677.9,282.8L679.7,286.6L684.6,292.3L685.5,296.8L680.5,300.5"/><path fill="none" stroke="rgba(20,0,0,0.45)" stroke-width="0.9" d="M666.0,267.4L669.2,268.2L672.3,269.2M667.0,271.8L670.5,273.5L673.6,274.6M668.3,275.5L672.0,277.0L674.8,277.6M664.2,252.8L666.2,254.5L667.6,255.2M665.5,258.5L667.2,259.6L668.4,260.5"/><path fill="none" stroke="#6e5454" stroke-width="2.4" stroke-linecap="round" d="M268.5,121.6L267.6,126.4L267.2,130.7L266.3,135.5L263.9,139.3L260.8,140.9"/><circle cx="265.1" cy="136.5" r="0.6" fill="#e8dada" stroke="none"/><circle cx="262.5" cy="139.5" r="0.6" fill="#e8dada" stroke="none"/><ellipse cx="265.8" cy="116.4" rx="0.8" ry="1.2" fill="#6e5454" stroke="none"/></g></svg>
<div class="lline"></div><div class="lline2"></div><div class="tline"></div>
<div class="date">June 2, 2010</div>
<div class="title">States in the Red</div>
<div class="sub">Most states have addressed or still face gaps in their budgets totaling $199 billion for fiscal year 2010, while tax revenue declined in the final quarter of 2009 in 41 states.</div>
<div class="btn b1"><span>Budget Gaps</span></div>
<div class="btn b2"><span>Revenue Shortfalls</span></div>
<div class="lt">FY Total 2010 Budget Gap (in $ billions)</div>
<div class="lb" style="left:33.2px;background:#b80000"></div>
<div class="lb" style="left:64.5px;background:#e83434"></div>
<div class="lb" style="left:96px;background:#de6868"></div>
<div class="lb" style="left:127.3px;background:#fba595"></div>
<div class="lb" style="left:158.8px;background:#fdc6b8"></div>
<div class="lb" style="left:190.5px;width:31.5px;background:#cdcdcd"></div>
<div class="ll" style="left:24.3px">-$55</div>
<div class="ll" style="left:53px">-15</div>
<div class="ll" style="left:83px">-10</div>
<div class="ll" style="left:117.9px">-5</div>
<div class="ll" style="left:150.2px">-1</div>
<div class="ll" style="left:184.3px">-0.5</div>
<div class="ll" style="left:218.5px">0</div>
<div class="src">Source: Center on Budget and Policy Priorities</div>
</body></html>
